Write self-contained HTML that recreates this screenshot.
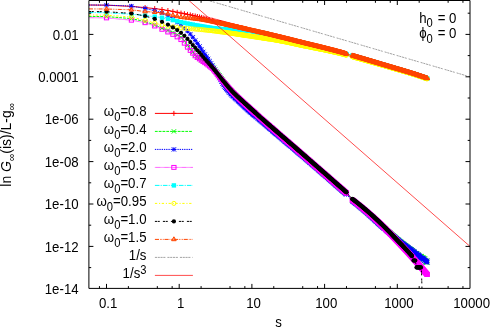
<!DOCTYPE html>
<html><head><meta charset="utf-8"><title>plot</title>
<style>html,body{margin:0;padding:0;background:#fff;width:491px;height:329px;overflow:hidden}</style>
</head><body>
<svg width="491" height="329" viewBox="0 0 491 329" style="display:block;font-family:'Liberation Sans',sans-serif;font-size:14.2px;will-change:transform">
<defs>
<marker id="m_red" markerUnits="userSpaceOnUse" markerWidth="10" markerHeight="10" viewBox="-5 -5 10 10" refX="0" refY="0" overflow="visible"><path d="M-2.5,0H2.5M0,-2.5V2.5" stroke="#ff0000" stroke-width="1" fill="none"/></marker><g id="g_red"><path d="M-2.5,0H2.5M0,-2.5V2.5" stroke="#ff0000" stroke-width="1" fill="none"/></g>
<marker id="m_green" markerUnits="userSpaceOnUse" markerWidth="10" markerHeight="10" viewBox="-5 -5 10 10" refX="0" refY="0" overflow="visible"><path d="M-2.15,-2.15L2.15,2.15M-2.15,2.15L2.15,-2.15" stroke="#00ff00" stroke-width="1" fill="none"/></marker><g id="g_green"><path d="M-2.15,-2.15L2.15,2.15M-2.15,2.15L2.15,-2.15" stroke="#00ff00" stroke-width="1" fill="none"/></g>
<marker id="m_blue" markerUnits="userSpaceOnUse" markerWidth="10" markerHeight="10" viewBox="-5 -5 10 10" refX="0" refY="0" overflow="visible"><path d="M-2.15,0H2.15M0,-2.15V2.15M-2.15,-2.15L2.15,2.15M-2.15,2.15L2.15,-2.15" stroke="#0000ff" stroke-width="1" fill="none"/></marker><g id="g_blue"><path d="M-2.15,0H2.15M0,-2.15V2.15M-2.15,-2.15L2.15,2.15M-2.15,2.15L2.15,-2.15" stroke="#0000ff" stroke-width="1" fill="none"/></g>
<marker id="m_magenta" markerUnits="userSpaceOnUse" markerWidth="10" markerHeight="10" viewBox="-5 -5 10 10" refX="0" refY="0" overflow="visible"><rect x="-2.1" y="-1.95" width="4.2" height="3.9" stroke="#ff00ff" stroke-width="1" fill="none"/></marker><g id="g_magenta"><rect x="-2.1" y="-1.95" width="4.2" height="3.9" stroke="#ff00ff" stroke-width="1" fill="none"/></g>
<marker id="m_cyan" markerUnits="userSpaceOnUse" markerWidth="10" markerHeight="10" viewBox="-5 -5 10 10" refX="0" refY="0" overflow="visible"><rect x="-2.2" y="-2.2" width="4.4" height="4.4" fill="#00ffff"/></marker><g id="g_cyan"><rect x="-2.2" y="-2.2" width="4.4" height="4.4" fill="#00ffff"/></g>
<marker id="m_yellow" markerUnits="userSpaceOnUse" markerWidth="10" markerHeight="10" viewBox="-5 -5 10 10" refX="0" refY="0" overflow="visible"><circle r="2.05" stroke="#ffff00" stroke-width="1" fill="none"/></marker><g id="g_yellow"><circle r="2.05" stroke="#ffff00" stroke-width="1" fill="none"/></g>
<marker id="m_black" markerUnits="userSpaceOnUse" markerWidth="10" markerHeight="10" viewBox="-5 -5 10 10" refX="0" refY="0" overflow="visible"><circle r="2.1" fill="#000000"/></marker><g id="g_black"><circle r="2.1" fill="#000000"/></g>
<marker id="m_orange" markerUnits="userSpaceOnUse" markerWidth="10" markerHeight="10" viewBox="-5 -5 10 10" refX="0" refY="0" overflow="visible"><path d="M0,-2.6L2.3,1.3H-2.3Z" stroke="#ff4500" stroke-width="1" fill="#ff4500" fill-opacity="0.5"/></marker><g id="g_orange"><path d="M0,-2.6L2.3,1.3H-2.3Z" stroke="#ff4500" stroke-width="1" fill="#ff4500" fill-opacity="0.5"/></g>
<clipPath id="clip"><rect x="88.9" y="0.5" width="381.1" height="287.9"/></clipPath>
</defs>
<rect width="491" height="329" fill="#fff"/>
<g clip-path="url(#clip)">
<polyline points="88.9,5.0 106.5,5.2 131.4,6.4 145.1,7.6 154.7,8.6 162.0,9.5 167.9,10.5 172.9,11.4 177.2,12.3 181.0,13.1 184.4,13.7 187.5,14.4 190.3,14.9 192.8,15.5 195.2,16.0 197.4,16.5 199.5,17.0 201.4,17.4 203.2,17.9 204.9,18.3 206.6,18.8 208.1,19.2 209.6,19.6 211.0,20.0 212.4,20.3 213.7,20.7 214.9,21.0 216.1,21.4 217.3,21.7 218.4,22.0 219.5,22.3 220.5,22.5 221.5,22.8 222.5,23.1 224.4,23.6 226.1,24.0 227.8,24.5 229.4,24.9 230.9,25.3 232.3,25.7 233.7,26.1 235.0,26.4 236.3,26.7 237.5,27.1 238.7,27.4 239.8,27.7 240.9,28.0 242.0,28.2 243.0,28.5 244.0,28.8 245.4,29.1 246.8,29.5 248.1,29.8 249.3,30.1 250.5,30.4 251.7,30.7 252.8,31.0 253.9,31.3 255.0,31.5 256.0,31.8 257.0,32.0 258.2,32.3 259.4,32.6 260.6,32.9 261.7,33.2 262.8,33.4 263.9,33.7 264.9,33.9 265.9,34.2 267.1,34.5 268.2,34.7 269.4,35.0 270.4,35.2 271.5,35.5 272.5,35.7 273.6,36.0 274.7,36.3 275.8,36.5 276.9,36.8 277.9,37.0 278.9,37.2 280.0,37.5 281.1,37.7 282.1,38.0 283.1,38.2 284.2,38.5 285.3,38.7 286.3,39.0 287.3,39.2 288.4,39.5 289.5,39.7 290.5,40.0 291.5,40.2 292.5,40.5 293.6,40.7 294.6,41.0 295.6,41.2 296.6,41.5 297.6,41.7 298.7,42.0 299.7,42.2 300.7,42.5 301.7,42.7 302.7,43.0 303.8,43.2 304.8,43.5 305.8,43.7 306.8,44.0 307.8,44.2 308.8,44.5 309.8,44.7 310.8,45.0 311.8,45.2 312.8,45.5 313.7,45.7 314.7,46.0 315.8,46.3 316.7,46.5 317.8,46.8 318.7,47.0 319.7,47.3 320.7,47.5 321.7,47.8 322.7,48.0 323.7,48.3 324.7,48.5 325.7,48.8 326.6,49.0 327.6,49.3 328.6,49.5 329.6,49.8 330.6,50.0 331.6,50.3 332.5,50.6 333.5,50.8 334.5,51.1 335.5,51.3 336.5,51.6 337.4,51.8 338.4,52.1 339.4,52.3 340.4,52.6 341.4,52.9 342.3,53.1 343.3,53.4 344.3,53.6 345.3,53.9 346.2,54.1 352.2,55.5 353.3,55.8 354.3,56.1 355.3,56.4 356.3,56.7 357.3,57.0 358.3,57.3 359.3,57.6 360.3,57.9 361.3,58.2 362.3,58.5 363.3,58.8 364.3,59.1 365.3,59.4 366.3,59.7 367.3,60.0 368.3,60.3 369.3,60.6 370.3,60.8 371.3,61.1 372.3,61.4 373.3,61.7 374.3,62.0 375.2,62.3 376.2,62.6 377.2,62.9 378.2,63.2 379.2,63.5 380.2,63.8 381.1,64.1 382.1,64.4 383.1,64.6 384.1,64.9 385.1,65.2 386.0,65.5 387.0,65.8 388.0,66.1 389.0,66.4 389.9,66.7 390.9,67.0 391.9,67.3 392.9,67.5 393.8,67.8 394.8,68.1 395.8,68.4 396.8,68.7 397.7,69.0 398.7,69.3 399.7,69.6 400.7,69.8 401.7,70.1 402.6,70.4 403.6,70.7 404.6,71.0 405.5,71.3 406.5,71.6 407.5,71.9 408.4,72.2 409.4,72.4 410.4,72.7 411.3,73.0 412.3,73.3 413.3,73.6 414.2,74.0 415.2,74.3 416.1,74.6 417.1,74.9 418.1,75.2 419.0,75.5 420.0,75.8 420.9,76.2 421.9,76.5 422.8,76.8 423.8,77.1 424.7,77.5 425.7,77.8 426.6,78.1 427.2,78.3" fill="none" stroke="#ff0000" stroke-width="1"/>
<polyline points="106.5,5.2 131.4,6.4 145.1,7.6 154.7,8.6 162.0,9.5 167.9,10.5 172.9,11.4 177.2,12.3 181.0,13.1 184.4,13.7 187.5,14.4 190.3,14.9 192.8,15.5 195.2,16.0 197.4,16.5 199.5,17.0 201.4,17.4 203.2,17.9 204.9,18.3 206.6,18.8 208.1,19.2 209.6,19.6 211.0,20.0 212.4,20.3 213.7,20.7 214.9,21.0 216.1,21.4 217.3,21.7 218.4,22.0 219.5,22.3 220.5,22.5 221.5,22.8 222.5,23.1 223.4,23.3 224.4,23.6 225.3,23.8 226.1,24.0 227.0,24.3 227.8,24.5 228.6,24.7 229.4,24.9 230.1,25.1 230.9,25.3 231.6,25.5 232.3,25.7 233.0,25.9 233.7,26.1 234.4,26.2 235.0,26.4 235.7,26.6 236.3,26.7 236.9,26.9 237.5,27.1 238.1,27.2 238.7,27.4 239.3,27.5 239.8,27.7 240.4,27.8 240.9,28.0 241.4,28.1 242.0,28.2 242.5,28.4 243.0,28.5 243.5,28.6 244.0,28.8 244.5,28.9 244.9,29.0 245.4,29.1 245.9,29.2 246.3,29.4 246.8,29.5 247.2,29.6 247.6,29.7 248.5,29.9 249.3,30.1 250.1,30.3 250.9,30.5 251.7,30.7 252.5,30.9 253.2,31.1 253.9,31.3 254.6,31.5 255.3,31.6 256.0,31.8 256.6,31.9 257.3,32.1 257.9,32.3 258.5,32.4 259.1,32.6 259.7,32.7 260.3,32.8 260.9,33.0 261.5,33.1 262.0,33.3 262.6,33.4 263.1,33.5 263.6,33.6 264.1,33.8 264.7,33.9 265.2,34.0 265.7,34.1 266.1,34.2 266.6,34.3 267.1,34.5 267.6,34.6 268.0,34.7 268.5,34.8 268.9,34.9 269.4,35.0 270.0,35.1 270.6,35.3 271.3,35.4 271.9,35.6 272.5,35.7 273.1,35.9 273.6,36.0 274.2,36.1 274.7,36.3 275.3,36.4 275.8,36.5 276.4,36.6 276.9,36.8 277.4,36.9 277.9,37.0 278.4,37.1 278.9,37.2 279.4,37.3 279.8,37.5 280.3,37.6 280.8,37.7 281.2,37.8 281.7,37.9 282.1,38.0 282.7,38.1 283.2,38.3 283.8,38.4 284.3,38.5 284.9,38.7 285.4,38.8 285.9,38.9 286.4,39.0 286.9,39.1 287.4,39.3 287.9,39.4 288.4,39.5 288.9,39.6 289.3,39.7 289.8,39.8 290.3,39.9 290.7,40.0 291.1,40.1 291.7,40.3 292.2,40.4 292.7,40.5 293.3,40.7 293.8,40.8 294.3,40.9 294.8,41.0 295.2,41.1 295.7,41.2 296.2,41.4 296.6,41.5 297.1,41.6 297.6,41.7 298.0,41.8 298.5,41.9 299.0,42.1 299.5,42.2 300.0,42.3 300.5,42.4 301.0,42.6 301.5,42.7 302.0,42.8 302.4,42.9 302.9,43.0 303.3,43.1 303.8,43.2 304.2,43.3 304.7,43.5 305.2,43.6 305.7,43.7 306.2,43.8 306.6,44.0 307.1,44.1 307.6,44.2 308.0,44.3 308.5,44.4 308.9,44.5 309.4,44.6 309.9,44.8 310.4,44.9 310.8,45.0 311.3,45.1 311.8,45.2 312.2,45.4 312.7,45.5 313.1,45.6 313.6,45.7 314.1,45.8 314.5,45.9 315.0,46.1 315.5,46.2 315.9,46.3 316.4,46.4 316.8,46.5 317.3,46.6 317.8,46.8 318.2,46.9 318.7,47.0 319.1,47.1 319.6,47.2 320.0,47.3 320.5,47.5 321.0,47.6 321.4,47.7 321.9,47.8 322.3,47.9 322.8,48.0 323.2,48.2 323.7,48.3 324.2,48.4 324.6,48.5 325.1,48.6 325.5,48.7 326.0,48.9 326.4,49.0 326.9,49.1 327.3,49.2 327.8,49.3 328.2,49.4 328.7,49.6 329.1,49.7 329.6,49.8 330.0,49.9 330.5,50.0 330.9,50.1 331.4,50.3 331.8,50.4 332.3,50.5 332.7,50.6 333.2,50.7 333.6,50.8 334.1,50.9 334.5,51.1 335.0,51.2 335.4,51.3 335.9,51.4 336.3,51.5 336.8,51.6 337.2,51.8 337.7,51.9 338.1,52.0 338.6,52.1 339.0,52.2 339.5,52.4 339.9,52.5 340.4,52.6 340.8,52.7 341.3,52.8 341.7,52.9 342.1,53.1 342.6,53.2 343.0,53.3 343.5,53.4 343.9,53.5 344.4,53.6 344.8,53.8 345.3,53.9 345.7,54.0 346.2,54.1 346.5,54.2" fill="none" stroke="none" marker-start="url(#m_red)" marker-mid="url(#m_red)" marker-end="url(#m_red)"/>
<polyline points="352.2,55.5 352.8,55.7 353.3,55.8 353.8,56.0 354.3,56.1 354.8,56.3 355.3,56.4 355.7,56.6 356.2,56.7 356.7,56.8 357.1,57.0 357.6,57.1 358.0,57.2 358.4,57.4 359.0,57.5 359.5,57.7 360.0,57.8 360.5,58.0 361.0,58.1 361.5,58.3 362.0,58.4 362.5,58.5 363.0,58.7 363.4,58.8 363.9,59.0 364.3,59.1 364.8,59.2 365.2,59.3 365.7,59.5 366.2,59.6 366.7,59.8 367.2,59.9 367.7,60.1 368.1,60.2 368.6,60.3 369.1,60.5 369.5,60.6 370.0,60.8 370.4,60.9 370.9,61.0 371.3,61.1 371.8,61.3 372.3,61.4 372.8,61.6 373.3,61.7 373.7,61.9 374.2,62.0 374.6,62.1 375.1,62.3 375.5,62.4 376.0,62.5 376.5,62.7 377.0,62.8 377.4,63.0 377.9,63.1 378.4,63.2 378.8,63.4 379.3,63.5 379.7,63.6 380.2,63.8 380.6,63.9 381.1,64.0 381.5,64.2 382.0,64.3 382.5,64.5 382.9,64.6 383.4,64.7 383.8,64.9 384.2,65.0 384.7,65.1 385.2,65.3 385.6,65.4 386.1,65.5 386.5,65.7 387.0,65.8 387.4,65.9 387.9,66.1 388.3,66.2 388.8,66.3 389.3,66.5 389.7,66.6 390.1,66.7 390.6,66.9 391.0,67.0 391.5,67.1 391.9,67.3 392.4,67.4 392.8,67.5 393.3,67.7 393.7,67.8 394.2,67.9 394.6,68.1 395.1,68.2 395.5,68.3 396.0,68.5 396.4,68.6 396.9,68.7 397.3,68.9 397.8,69.0 398.2,69.1 398.7,69.3 399.1,69.4 399.6,69.5 400.0,69.6 400.4,69.8 400.9,69.9 401.3,70.0 401.8,70.2 402.2,70.3 402.7,70.4 403.1,70.6 403.6,70.7 404.0,70.8 404.4,71.0 404.9,71.1 405.3,71.2 405.8,71.4 406.2,71.5 406.7,71.6 407.1,71.8 407.5,71.9 408.0,72.0 408.4,72.2 408.9,72.3 409.3,72.4 409.7,72.6 410.2,72.7 410.6,72.8 411.1,73.0 411.5,73.1 411.9,73.2 412.4,73.4 412.8,73.5 413.3,73.6 413.7,73.8 414.1,73.9 414.6,74.1 415.0,74.2 415.4,74.3 415.9,74.5 416.3,74.6 416.7,74.8 417.2,74.9 417.6,75.0 418.0,75.2 418.5,75.3 418.9,75.5 419.3,75.6 419.8,75.8 420.2,75.9 420.7,76.1 421.1,76.2 421.5,76.4 421.9,76.5 422.4,76.6 422.8,76.8 423.3,76.9 423.7,77.1 424.1,77.2 424.5,77.4 425.0,77.5 425.4,77.7 425.8,77.8 426.3,78.0 426.7,78.1 427.1,78.3 427.2,78.3" fill="none" stroke="none" marker-start="url(#m_red)" marker-mid="url(#m_red)" marker-end="url(#m_red)"/>
<polyline points="88.9,16.4 106.5,16.6 131.4,18.6 145.1,21.6 154.7,24.9 162.0,28.0 167.9,30.4 172.9,32.5 177.2,34.7 181.0,37.3 184.4,40.9 187.5,45.2 190.3,48.8 192.8,52.0 195.2,54.9 197.4,57.2 199.5,58.9 201.4,60.2 203.2,61.2 204.9,62.1 206.6,62.9 208.1,63.8 209.6,64.7 211.0,65.7 212.4,66.8 213.7,68.1 214.9,69.5 216.1,71.1 217.3,72.6 218.4,74.1 219.5,75.5 220.5,76.9 221.5,78.3 222.5,79.7 223.4,81.1 224.4,82.5 225.3,83.8 226.1,85.0 227.0,86.2 227.8,87.2 228.6,88.2 229.4,89.1 230.1,90.0 230.9,90.8 231.6,91.6 232.3,92.3 233.0,93.0 234.4,94.4 235.7,95.7 236.9,96.9 238.1,98.1 239.3,99.2 240.4,100.3 241.4,101.3 242.5,102.3 243.5,103.3 244.5,104.2 245.4,105.1 246.3,105.9 247.2,106.7 248.1,107.5 248.9,108.3 249.7,109.1 250.5,109.8 251.3,110.5 252.1,111.2 253.2,112.2 254.3,113.1 255.3,114.0 256.3,114.9 257.3,115.8 258.2,116.6 259.1,117.4 260.0,118.2 260.9,119.0 261.7,119.7 262.6,120.4 263.4,121.1 264.1,121.8 264.9,122.5 265.9,123.3 266.9,124.2 267.8,125.0 268.7,125.8 269.6,126.5 270.4,127.3 271.3,128.0 272.1,128.7 272.9,129.4 273.6,130.1 274.6,130.9 275.5,131.7 276.4,132.5 277.2,133.2 278.1,134.0 278.9,134.7 279.7,135.4 280.4,136.0 281.2,136.7 282.1,137.5 283.0,138.2 283.8,138.9 284.6,139.6 285.4,140.3 286.2,141.0 286.9,141.6 287.8,142.4 288.6,143.1 289.5,143.8 290.3,144.5 291.0,145.2 291.8,145.8 292.6,146.5 293.5,147.2 294.3,147.9 295.0,148.6 295.8,149.3 296.6,150.0 297.5,150.7 298.3,151.4 299.0,152.1 299.8,152.7 300.6,153.4 301.4,154.1 302.2,154.8 303.0,155.5 303.8,156.2 304.6,156.9 305.3,157.6 306.1,158.2 306.9,158.9 307.7,159.6 308.5,160.3 309.3,161.0 310.1,161.7 310.8,162.3 311.6,163.0 312.4,163.7 313.2,164.4 314.0,165.1 314.8,165.8 315.6,166.5 316.4,167.1 317.1,167.8 317.9,168.5 318.7,169.2 319.4,169.8 320.2,170.5 321.0,171.2 321.8,171.9 322.5,172.5 323.3,173.2 324.1,173.9 324.8,174.6 325.6,175.2 326.4,175.9 327.2,176.6 327.9,177.2 328.7,177.9 329.5,178.6 330.2,179.3 331.0,179.9 331.8,180.6 332.5,181.3 333.3,182.0 334.1,182.6 334.8,183.3 335.6,184.0 336.4,184.6 337.1,185.3 337.9,186.0 338.7,186.7 339.4,187.3 340.2,188.0 341.0,188.7 341.7,189.3 342.5,190.0 343.2,190.7 344.0,191.3 344.8,192.0 345.5,192.7 346.3,193.4 352.2,200.0 353.1,200.7 354.0,201.4 354.9,202.1 355.7,202.8 356.5,203.5 357.3,204.1 358.1,204.7 359.0,205.5 359.8,206.2 360.6,206.8 361.4,207.5 362.2,208.2 363.1,208.9 363.9,209.6 364.7,210.3 365.5,211.0 366.2,211.6 367.1,212.4 367.9,213.1 368.7,213.8 369.5,214.5 370.2,215.1 371.0,215.9 371.8,216.6 372.6,217.3 373.3,218.0 374.1,218.7 374.9,219.4 375.7,220.1 376.4,220.8 377.2,221.5 378.0,222.2 378.7,222.9 379.5,223.6 380.3,224.3 381.0,225.0 381.8,225.7 382.6,226.3 383.4,227.0 384.1,227.7 384.9,228.4 385.7,229.1 386.4,229.8 387.2,230.5 388.0,231.1 388.8,231.8 389.5,232.5 390.3,233.2 391.1,233.8 391.8,234.5 392.6,235.2 393.4,235.9 394.1,236.5 394.9,237.2 395.7,237.9 396.5,238.5 397.2,239.2 398.0,239.8 398.8,240.5 399.6,241.1 400.4,241.8 401.2,242.4 402.0,243.0 402.8,243.6 403.6,244.3 404.4,244.9 405.3,245.5 406.1,246.1 406.9,246.7 407.7,247.3 408.5,247.9 409.3,248.6 410.1,249.2 410.9,249.8 411.7,250.4 412.5,251.0 413.3,251.7 414.1,252.3 415.0,252.9 415.8,253.5 416.6,254.1 417.4,254.7 418.2,255.3 419.0,255.9 419.8,256.5 420.6,257.1 421.4,257.7 422.3,258.3 423.1,258.9 423.9,259.5 424.7,260.1 425.5,260.7 426.3,261.3 427.2,261.8 427.2,261.9" fill="none" stroke="#00ff00" stroke-width="1" stroke-dasharray="2.8 1"/>
<polyline points="106.5,16.6 131.4,18.6 145.1,21.6 154.7,24.9 162.0,28.0 167.9,30.4 172.9,32.5 177.2,34.7 181.0,37.3 184.4,40.9 187.5,45.2 190.3,48.8 192.8,52.0 195.2,54.9 197.4,57.2 199.5,58.9 201.4,60.2 203.2,61.2 204.9,62.1 206.6,62.9 208.1,63.8 209.6,64.7 211.0,65.7 212.4,66.8 213.7,68.1 214.9,69.5 216.1,71.1 217.3,72.6 218.4,74.1 219.5,75.5 220.5,76.9 221.5,78.3 222.5,79.7 223.4,81.1 224.4,82.5 225.3,83.8 226.1,85.0 227.0,86.2 227.8,87.2 228.6,88.2 229.4,89.1 230.1,90.0 230.9,90.8 231.6,91.6 232.3,92.3 233.0,93.0 233.7,93.7 234.4,94.4 235.0,95.1 235.7,95.7 236.3,96.3 236.9,96.9 237.5,97.5 238.1,98.1 238.7,98.6 239.3,99.2 239.8,99.7 240.4,100.3 240.9,100.8 241.4,101.3 242.0,101.8 242.5,102.3 243.0,102.8 243.5,103.3 244.0,103.7 244.5,104.2 244.9,104.6 245.4,105.1 245.9,105.5 246.3,105.9 246.8,106.3 247.2,106.7 247.6,107.1 248.1,107.5 248.5,107.9 248.9,108.3 249.3,108.7 249.7,109.1 250.1,109.4 250.5,109.8 250.9,110.1 251.3,110.5 251.7,110.8 252.1,111.2 252.5,111.5 252.8,111.8 253.2,112.2 253.6,112.5 253.9,112.8 254.3,113.1 254.6,113.4 255.0,113.7 255.3,114.0 255.6,114.3 256.3,114.9 257.0,115.5 257.6,116.1 258.2,116.6 258.8,117.2 259.4,117.7 260.0,118.2 260.6,118.7 261.2,119.2 261.7,119.7 262.3,120.2 262.8,120.6 263.4,121.1 263.9,121.6 264.4,122.0 264.9,122.5 265.4,122.9 265.9,123.3 266.4,123.7 266.9,124.2 267.3,124.6 267.8,125.0 268.2,125.4 268.7,125.8 269.1,126.2 269.6,126.5 270.0,126.9 270.4,127.3 270.8,127.7 271.3,128.0 271.7,128.4 272.1,128.7 272.5,129.1 272.9,129.4 273.2,129.8 273.6,130.1 274.0,130.4 274.4,130.8 274.7,131.1 275.1,131.4 275.5,131.7 275.8,132.0 276.2,132.3 276.5,132.6 276.9,132.9 277.2,133.2 277.7,133.7 278.2,134.1 278.7,134.5 279.2,135.0 279.7,135.4 280.1,135.8 280.6,136.2 281.1,136.6 281.5,137.0 281.9,137.3 282.4,137.7 282.8,138.1 283.2,138.4 283.7,138.8 284.1,139.2 284.5,139.5 284.9,139.9 285.3,140.2 285.7,140.5 286.1,140.9 286.4,141.2 286.8,141.5 287.2,141.8 287.6,142.2 287.9,142.5 288.3,142.8 288.6,143.1 289.0,143.4 289.3,143.7 289.7,144.0 290.0,144.3 290.5,144.7 290.9,145.1 291.4,145.4 291.8,145.8 292.2,146.2 292.6,146.5 293.1,146.9 293.5,147.2 293.9,147.6 294.3,147.9 294.7,148.3 295.0,148.6 295.4,148.9 295.8,149.3 296.2,149.6 296.6,149.9 296.9,150.2 297.3,150.5 297.6,150.9 298.0,151.2 298.3,151.5 298.7,151.8 299.0,152.1 299.5,152.4 299.9,152.8 300.3,153.2 300.7,153.5 301.1,153.9 301.5,154.2 301.9,154.5 302.3,154.9 302.7,155.2 303.0,155.5 303.4,155.9 303.8,156.2 304.1,156.5 304.5,156.8 304.9,157.1 305.2,157.4 305.6,157.7 305.9,158.0 306.2,158.3 306.6,158.7 307.0,159.0 307.4,159.4 307.8,159.7 308.2,160.0 308.6,160.4 309.0,160.7 309.3,161.0 309.7,161.3 310.1,161.7 310.4,162.0 310.8,162.3 311.1,162.6 311.5,162.9 311.8,163.2 312.2,163.5 312.6,163.9 313.0,164.2 313.4,164.5 313.7,164.9 314.1,165.2 314.5,165.5 314.8,165.8 315.2,166.1 315.6,166.5 315.9,166.8 316.3,167.1 316.6,167.4 316.9,167.7 317.3,168.0 317.7,168.3 318.1,168.7 318.4,169.0 318.8,169.3 319.2,169.6 319.5,169.9 319.9,170.2 320.2,170.5 320.6,170.8 320.9,171.1 321.3,171.5 321.7,171.8 322.1,172.1 322.4,172.4 322.8,172.8 323.1,173.1 323.5,173.4 323.9,173.7 324.2,174.0 324.5,174.3 324.9,174.6 325.3,174.9 325.6,175.2 326.0,175.6 326.4,175.9 326.7,176.2 327.1,176.5 327.4,176.8 327.8,177.1 328.1,177.4 328.5,177.7 328.8,178.0 329.2,178.4 329.6,178.7 329.9,179.0 330.3,179.3 330.6,179.6 330.9,179.9 331.3,180.2 331.7,180.5 332.0,180.8 332.4,181.1 332.7,181.4 333.1,181.8 333.4,182.1 333.8,182.4 334.1,182.7 334.5,183.0 334.8,183.3 335.2,183.6 335.6,183.9 335.9,184.2 336.2,184.5 336.6,184.8 336.9,185.1 337.3,185.5 337.6,185.8 338.0,186.1 338.3,186.4 338.7,186.7 339.0,187.0 339.4,187.3 339.8,187.6 340.1,187.9 340.5,188.2 340.8,188.5 341.1,188.8 341.5,189.1 341.8,189.4 342.2,189.8 342.5,190.1 342.9,190.4 343.2,190.7 343.6,191.0 343.9,191.3 344.3,191.6 344.6,191.9 345.0,192.2 345.3,192.5 345.7,192.8 346.0,193.1 346.4,193.4 346.5,193.5" fill="none" stroke="none" marker-start="url(#m_green)" marker-mid="url(#m_green)" marker-end="url(#m_green)"/>
<polyline points="352.2,200.0 352.6,200.3 353.0,200.6 353.4,200.9 353.8,201.2 354.2,201.5 354.5,201.8 354.9,202.1 355.3,202.4 355.6,202.7 356.0,203.0 356.4,203.4 356.9,203.7 357.3,204.1 357.8,204.5 358.2,204.8 358.6,205.2 359.1,205.5 359.5,205.9 359.9,206.2 360.3,206.6 360.7,206.9 361.1,207.3 361.5,207.6 361.9,207.9 362.3,208.2 362.7,208.6 363.1,208.9 363.4,209.2 363.8,209.5 364.2,209.8 364.5,210.1 364.9,210.4 365.2,210.7 365.6,211.0 365.9,211.3 366.3,211.7 366.8,212.1 367.2,212.4 367.6,212.8 368.0,213.1 368.4,213.5 368.8,213.8 369.1,214.2 369.5,214.5 369.9,214.9 370.3,215.2 370.7,215.6 371.0,215.9 371.4,216.2 371.7,216.5 372.1,216.9 372.4,217.2 372.8,217.5 373.1,217.8 373.5,218.1 373.8,218.4 374.2,218.8 374.6,219.2 375.0,219.5 375.4,219.9 375.7,220.2 376.1,220.5 376.5,220.9 376.8,221.2 377.2,221.5 377.6,221.9 377.9,222.2 378.3,222.5 378.6,222.8 378.9,223.1 379.3,223.4 379.7,223.8 380.0,224.1 380.4,224.4 380.8,224.8 381.2,225.1 381.5,225.4 381.9,225.7 382.3,226.1 382.6,226.4 383.0,226.7 383.3,227.0 383.7,227.3 384.0,227.6 384.4,227.9 384.7,228.3 385.1,228.6 385.5,228.9 385.9,229.2 386.2,229.6 386.6,229.9 386.9,230.2 387.3,230.5 387.6,230.8 388.0,231.1 388.3,231.4 388.7,231.7 389.0,232.1 389.4,232.4 389.8,232.7 390.1,233.0 390.5,233.3 390.8,233.6 391.2,233.9 391.5,234.2 391.9,234.5 392.2,234.9 392.6,235.2 393.0,235.5 393.3,235.8 393.7,236.1 394.0,236.4 394.4,236.7 394.7,237.1 395.1,237.3 395.4,237.7 395.8,238.0 396.2,238.3 396.5,238.6 396.9,238.9 397.2,239.2 397.6,239.5 398.0,239.8 398.4,240.1 398.7,240.4 399.1,240.7 399.4,241.0 399.8,241.3 400.2,241.6 400.5,241.9 400.9,242.2 401.3,242.4 401.6,242.7 402.0,243.0 402.4,243.3 402.7,243.6 403.1,243.9 403.5,244.1 403.8,244.5 404.2,244.8 404.6,245.0 405.0,245.2 405.3,245.7 405.7,245.8 406.1,246.3 406.4,246.1 406.8,246.6 407.2,247.0 407.6,247.6 407.9,247.3 408.3,248.1 408.7,248.2 409.0,248.6 409.4,248.8 409.8,249.5 410.1,249.0 410.5,249.4 410.9,249.4 411.2,249.4 411.6,249.9 412.0,251.2 412.3,251.4 412.7,250.5 413.1,251.6 413.4,251.7 413.8,252.2 414.2,252.6 414.6,252.2 414.9,253.8 415.3,253.1 415.7,253.7 416.0,254.0 416.4,253.3 416.8,253.3 417.1,254.3 417.5,255.4 417.9,255.8 418.3,255.9 418.6,254.7 419.0,256.9 419.4,256.9 419.7,257.4 420.1,256.8 420.5,258.1 420.8,256.0 421.2,256.2 421.6,256.4 421.9,257.3 422.3,257.6 422.7,257.7 423.1,259.1 423.4,257.7 423.8,259.7 424.2,258.6 424.5,260.5 424.9,258.6 425.3,259.9 425.7,262.3 426.0,261.2 426.4,262.4 426.8,262.1 427.1,262.2 427.2,260.7" fill="none" stroke="none" marker-start="url(#m_green)" marker-mid="url(#m_green)" marker-end="url(#m_green)"/>
<polyline points="88.9,5.0 106.5,5.1 131.4,6.1 145.1,8.5 154.7,10.6 162.0,12.8 167.9,15.7 172.9,19.0 177.2,22.3 181.0,25.3 184.4,28.2 187.5,31.2 190.3,34.2 192.8,37.3 195.2,40.5 197.4,43.5 199.5,46.4 201.4,49.2 203.2,51.9 204.9,54.4 206.6,56.7 208.1,58.9 209.6,61.2 211.0,63.4 212.4,65.6 213.7,67.8 214.9,69.9 216.1,71.9 217.3,73.9 218.4,76.0 219.5,78.0 220.5,80.0 221.5,81.8 222.5,83.5 223.4,85.1 224.4,86.5 225.3,87.7 226.1,88.8 227.0,89.8 227.8,90.8 228.6,91.7 229.4,92.5 230.1,93.3 230.9,94.1 231.6,94.8 233.0,96.1 234.4,97.4 235.7,98.6 236.9,99.7 238.1,100.8 239.3,101.8 240.4,102.9 241.4,103.9 242.5,104.8 243.5,105.7 244.5,106.6 245.4,107.5 246.3,108.3 247.2,109.1 248.1,109.9 248.9,110.6 249.7,111.3 250.5,112.0 251.3,112.7 252.1,113.3 253.2,114.3 254.3,115.2 255.3,116.1 256.3,117.0 257.3,117.8 258.2,118.6 259.1,119.4 260.0,120.1 260.9,120.8 261.7,121.5 262.6,122.2 263.4,122.9 264.1,123.6 265.2,124.4 266.1,125.2 267.1,126.1 268.0,126.8 268.9,127.6 269.8,128.3 270.6,129.1 271.5,129.8 272.3,130.5 273.1,131.1 273.8,131.8 274.7,132.6 275.7,133.3 276.5,134.1 277.4,134.8 278.2,135.5 279.0,136.2 279.8,136.9 280.6,137.5 281.5,138.3 282.4,139.0 283.2,139.7 284.1,140.4 284.9,141.1 285.7,141.8 286.4,142.4 287.3,143.2 288.2,143.9 289.0,144.6 289.8,145.3 290.6,145.9 291.4,146.6 292.2,147.3 293.1,148.0 293.9,148.7 294.7,149.4 295.4,150.0 296.3,150.7 297.1,151.4 297.9,152.1 298.7,152.8 299.5,153.4 300.3,154.1 301.1,154.8 301.9,155.5 302.7,156.2 303.5,156.9 304.3,157.6 305.1,158.2 305.8,158.9 306.6,159.6 307.4,160.3 308.2,160.9 309.0,161.6 309.8,162.3 310.6,163.0 311.4,163.6 312.2,164.3 312.9,165.0 313.7,165.7 314.5,166.3 315.3,167.0 316.1,167.7 316.8,168.4 317.6,169.0 318.4,169.7 319.2,170.4 320.0,171.1 320.8,171.8 321.5,172.4 322.3,173.1 323.1,173.8 323.9,174.4 324.6,175.1 325.4,175.8 326.2,176.5 327.0,177.1 327.7,177.8 328.5,178.5 329.3,179.1 330.0,179.8 330.8,180.5 331.6,181.1 332.3,181.8 333.1,182.5 333.9,183.2 334.6,183.8 335.4,184.5 336.2,185.2 336.9,185.8 337.7,186.5 338.5,187.2 339.2,187.8 340.0,188.5 340.7,189.2 341.5,189.8 342.3,190.5 343.0,191.2 343.8,191.9 344.6,192.5 345.3,193.2 346.1,193.9 352.2,200.7 353.1,201.4 354.0,202.1 354.9,202.8 355.7,203.5 356.5,204.1 357.3,204.7 358.2,205.5 359.1,206.2 359.9,206.9 360.7,207.5 361.5,208.2 362.3,208.8 363.1,209.6 364.0,210.3 364.8,211.0 365.6,211.6 366.3,212.3 367.2,213.0 368.0,213.7 368.8,214.5 369.5,215.2 370.3,215.8 371.1,216.6 371.9,217.3 372.6,218.0 373.4,218.7 374.1,219.4 374.9,220.1 375.7,220.8 376.4,221.5 377.2,222.2 378.0,222.9 378.7,223.6 379.5,224.3 380.3,225.0 381.1,225.7 381.8,226.4 382.6,227.0 383.4,227.7 384.2,228.4 384.9,229.1 385.7,229.7 386.5,230.4 387.3,231.1 388.0,231.7 388.8,232.4 389.6,233.1 390.4,233.8 391.2,234.4 392.0,235.1 392.8,235.8 393.5,236.4 394.3,237.1 395.1,237.8 395.9,238.4 396.7,239.1 397.5,239.7 398.3,240.4 399.1,241.0 399.9,241.6 400.7,242.2 401.5,242.8 402.3,243.4 403.1,244.0 404.0,244.7 404.8,245.2 405.6,245.8 406.4,246.4 407.2,247.0 408.0,247.6 408.9,248.2 409.7,248.9 410.5,249.5 411.3,250.1 412.1,250.7 412.9,251.3 413.7,251.9 414.5,252.5 415.3,253.1 416.1,253.7 416.9,254.3 417.7,254.9 418.6,255.5 419.4,256.1 420.2,256.7 421.0,257.3 421.8,257.9 422.6,258.5 423.4,259.1 424.2,259.7 425.1,260.3 425.9,260.9 426.7,261.5 427.2,261.8" fill="none" stroke="#0000ff" stroke-width="1" stroke-dasharray="1.35 0.9"/>
<polyline points="106.5,5.1 131.4,6.1 145.1,8.5 154.7,10.6 162.0,12.8 167.9,15.7 172.9,19.0 177.2,22.3 181.0,25.3 184.4,28.2 187.5,31.2 190.3,34.2 192.8,37.3 195.2,40.5 197.4,43.5 199.5,46.4 201.4,49.2 203.2,51.9 204.9,54.4 206.6,56.7 208.1,58.9 209.6,61.2 211.0,63.4 212.4,65.6 213.7,67.8 214.9,69.9 216.1,71.9 217.3,73.9 218.4,76.0 219.5,78.0 220.5,80.0 221.5,81.8 222.5,83.5 223.4,85.1 224.4,86.5 225.3,87.7 226.1,88.8 227.0,89.8 227.8,90.8 228.6,91.7 229.4,92.5 230.1,93.3 230.9,94.1 231.6,94.8 232.3,95.5 233.0,96.1 233.7,96.8 234.4,97.4 235.0,98.0 235.7,98.6 236.3,99.1 236.9,99.7 237.5,100.2 238.1,100.8 238.7,101.3 239.3,101.8 239.8,102.3 240.4,102.9 240.9,103.4 241.4,103.9 242.0,104.3 242.5,104.8 243.0,105.3 243.5,105.7 244.0,106.2 244.5,106.6 244.9,107.1 245.4,107.5 245.9,107.9 246.3,108.3 246.8,108.7 247.2,109.1 247.6,109.5 248.1,109.9 248.5,110.2 248.9,110.6 249.3,111.0 249.7,111.3 250.1,111.7 250.5,112.0 250.9,112.4 251.3,112.7 251.7,113.0 252.1,113.3 252.5,113.7 252.8,114.0 253.2,114.3 253.6,114.6 253.9,114.9 254.3,115.2 254.6,115.5 255.0,115.8 255.6,116.4 256.3,117.0 257.0,117.5 257.6,118.0 258.2,118.6 258.8,119.1 259.4,119.6 260.0,120.1 260.6,120.6 261.2,121.1 261.7,121.5 262.3,122.0 262.8,122.5 263.4,122.9 263.9,123.3 264.4,123.8 264.9,124.2 265.4,124.6 265.9,125.0 266.4,125.5 266.9,125.9 267.3,126.3 267.8,126.6 268.2,127.0 268.7,127.4 269.1,127.8 269.6,128.2 270.0,128.5 270.4,128.9 270.8,129.2 271.3,129.6 271.7,129.9 272.1,130.3 272.5,130.6 272.9,131.0 273.2,131.3 273.6,131.6 274.0,131.9 274.4,132.3 274.7,132.6 275.1,132.9 275.5,133.2 275.8,133.5 276.2,133.8 276.5,134.1 276.9,134.4 277.4,134.8 277.9,135.2 278.4,135.7 278.9,136.1 279.4,136.5 279.8,136.9 280.3,137.3 280.8,137.6 281.2,138.0 281.7,138.4 282.1,138.8 282.5,139.1 283.0,139.5 283.4,139.9 283.8,140.2 284.2,140.5 284.6,140.9 285.0,141.2 285.4,141.6 285.8,141.9 286.2,142.2 286.6,142.5 286.9,142.8 287.3,143.2 287.7,143.5 288.0,143.8 288.4,144.1 288.8,144.4 289.1,144.7 289.5,145.0 289.9,145.4 290.4,145.7 290.8,146.1 291.3,146.5 291.7,146.8 292.1,147.2 292.5,147.6 293.0,147.9 293.4,148.3 293.8,148.6 294.2,148.9 294.6,149.3 295.0,149.6 295.3,149.9 295.7,150.3 296.1,150.6 296.5,150.9 296.8,151.2 297.2,151.5 297.6,151.8 297.9,152.1 298.3,152.4 298.6,152.7 299.0,153.0 299.4,153.4 299.8,153.7 300.2,154.1 300.6,154.4 301.0,154.8 301.4,155.1 301.8,155.4 302.2,155.8 302.6,156.1 303.0,156.4 303.3,156.8 303.7,157.1 304.1,157.4 304.4,157.7 304.8,158.0 305.1,158.3 305.5,158.6 305.8,158.9 306.2,159.2 306.6,159.5 307.0,159.9 307.4,160.2 307.8,160.6 308.1,160.9 308.5,161.2 308.9,161.5 309.3,161.9 309.6,162.2 310.0,162.5 310.4,162.8 310.7,163.1 311.1,163.4 311.4,163.7 311.8,164.0 312.2,164.3 312.5,164.7 312.9,165.0 313.3,165.3 313.7,165.7 314.1,166.0 314.4,166.3 314.8,166.6 315.2,166.9 315.5,167.2 315.9,167.5 316.2,167.8 316.6,168.1 316.9,168.5 317.3,168.8 317.7,169.1 318.1,169.4 318.4,169.8 318.8,170.1 319.2,170.4 319.5,170.7 319.9,171.0 320.2,171.3 320.6,171.6 320.9,171.9 321.3,172.2 321.7,172.6 322.1,172.9 322.4,173.2 322.8,173.5 323.1,173.8 323.5,174.1 323.9,174.4 324.2,174.7 324.5,175.0 324.9,175.4 325.3,175.7 325.7,176.0 326.0,176.3 326.4,176.6 326.7,177.0 327.1,177.3 327.4,177.6 327.8,177.9 328.1,178.2 328.5,178.5 328.9,178.8 329.2,179.1 329.6,179.4 329.9,179.7 330.3,180.0 330.6,180.3 331.0,180.6 331.3,181.0 331.7,181.3 332.1,181.6 332.4,181.9 332.8,182.2 333.1,182.5 333.5,182.8 333.8,183.1 334.2,183.4 334.5,183.7 334.9,184.1 335.3,184.4 335.6,184.7 336.0,185.0 336.3,185.3 336.7,185.6 337.0,185.9 337.4,186.2 337.7,186.5 338.1,186.8 338.4,187.1 338.8,187.4 339.1,187.7 339.5,188.1 339.8,188.4 340.2,188.7 340.5,189.0 340.9,189.3 341.2,189.6 341.6,189.9 341.9,190.2 342.3,190.5 342.6,190.8 343.0,191.1 343.3,191.4 343.7,191.7 344.0,192.0 344.4,192.4 344.7,192.7 345.1,193.0 345.4,193.3 345.8,193.6 346.1,193.9 346.5,194.2 346.5,194.2" fill="none" stroke="none" marker-start="url(#m_blue)" marker-mid="url(#m_blue)" marker-end="url(#m_blue)"/>
<polyline points="352.2,200.7 352.6,201.0 353.0,201.3 353.4,201.6 353.8,201.9 354.2,202.2 354.5,202.5 354.9,202.8 355.3,203.1 355.6,203.4 356.0,203.6 356.4,204.0 356.9,204.4 357.3,204.7 357.8,205.1 358.2,205.5 358.6,205.8 359.1,206.2 359.5,206.5 359.9,206.9 360.3,207.2 360.7,207.5 361.1,207.9 361.5,208.2 361.9,208.5 362.3,208.8 362.7,209.2 363.1,209.5 363.4,209.8 363.8,210.1 364.2,210.4 364.5,210.7 364.9,211.0 365.2,211.3 365.6,211.6 365.9,211.9 366.3,212.3 366.8,212.7 367.2,213.0 367.6,213.4 368.0,213.7 368.4,214.1 368.8,214.5 369.1,214.8 369.5,215.2 369.9,215.5 370.3,215.8 370.7,216.2 371.0,216.5 371.4,216.9 371.7,217.2 372.1,217.5 372.4,217.8 372.8,218.2 373.1,218.5 373.5,218.8 373.8,219.1 374.1,219.4 374.5,219.8 374.9,220.1 375.3,220.5 375.7,220.8 376.0,221.2 376.4,221.5 376.8,221.9 377.1,222.2 377.5,222.5 377.8,222.8 378.2,223.2 378.5,223.5 378.9,223.8 379.2,224.1 379.6,224.4 380.0,224.8 380.4,225.1 380.7,225.4 381.1,225.7 381.5,226.1 381.8,226.4 382.2,226.7 382.6,227.0 382.9,227.3 383.3,227.6 383.6,227.9 384.0,228.2 384.4,228.6 384.7,228.9 385.1,229.2 385.5,229.5 385.9,229.8 386.2,230.2 386.6,230.5 386.9,230.8 387.3,231.1 387.6,231.4 388.0,231.7 388.3,232.0 388.7,232.3 389.1,232.6 389.5,232.9 389.8,233.3 390.2,233.6 390.5,233.9 390.9,234.2 391.2,234.5 391.6,234.8 391.9,235.1 392.3,235.4 392.7,235.7 393.0,236.0 393.4,236.3 393.8,236.6 394.1,236.9 394.5,237.2 394.8,237.5 395.2,237.8 395.5,238.1 395.9,238.4 396.3,238.7 396.6,239.0 397.0,239.3 397.4,239.6 397.7,239.9 398.1,240.2 398.5,240.5 398.8,240.8 399.2,241.1 399.6,241.4 400.0,241.7 400.3,242.0 400.7,242.2 401.1,242.5 401.4,242.8 401.8,243.1 402.2,243.4 402.6,243.6 403.0,243.9 403.3,244.2 403.7,244.4 404.1,244.7 404.4,245.0 404.8,245.3 405.2,245.6 405.6,245.8 405.9,246.1 406.3,246.4 406.7,246.7 407.1,246.9 407.4,247.2 407.8,247.5 408.2,247.7 408.6,248.0 408.9,248.4 409.3,248.6 409.7,248.8 410.0,249.2 410.4,249.3 410.8,249.7 411.2,249.9 411.5,250.3 411.9,250.6 412.3,250.8 412.6,251.0 413.0,251.5 413.4,251.9 413.7,251.7 414.1,251.9 414.5,252.2 414.8,253.1 415.2,253.4 415.6,253.1 416.0,254.0 416.3,253.6 416.7,254.1 417.1,254.4 417.4,255.1 417.8,254.5 418.2,255.0 418.6,255.6 418.9,255.3 419.3,255.8 419.7,256.3 420.0,257.0 420.4,257.2 420.8,257.5 421.1,257.7 421.5,257.9 421.9,258.4 422.3,258.5 422.6,258.8 423.0,258.5 423.4,258.6 423.7,259.7 424.1,259.1 424.5,260.4 424.8,260.3 425.2,260.2 425.6,261.3 425.9,260.4 426.3,261.2 426.7,260.9 427.0,262.4 427.2,262.0" fill="none" stroke="none" marker-start="url(#m_blue)" marker-mid="url(#m_blue)" marker-end="url(#m_blue)"/>
<polyline points="88.9,17.7 106.5,17.9 131.4,20.2 145.1,22.7 154.7,26.0 162.0,29.3 167.9,32.0 172.9,34.4 177.2,36.9 181.0,39.6 184.4,43.2 187.5,47.2 190.3,50.4 192.8,53.2 195.2,55.8 197.4,57.5 199.5,58.9 201.4,60.2 203.2,61.5 204.9,62.7 206.6,63.8 208.1,65.0 209.6,66.1 211.0,67.3 212.4,68.5 213.7,69.9 214.9,71.3 216.1,72.8 217.3,74.3 218.4,75.7 219.5,77.0 220.5,78.2 221.5,79.4 222.5,80.6 223.4,81.7 224.4,82.8 225.3,83.8 226.1,84.9 227.0,85.8 227.8,86.8 228.6,87.7 229.4,88.6 230.1,89.4 230.9,90.2 231.6,91.0 232.3,91.8 233.0,92.5 234.4,93.9 235.7,95.2 236.9,96.4 238.1,97.6 239.3,98.7 240.4,99.7 241.4,100.7 242.5,101.7 243.5,102.7 244.5,103.6 245.4,104.4 246.3,105.3 247.2,106.1 248.1,106.8 248.9,107.6 249.7,108.3 250.5,109.1 251.3,109.8 252.1,110.4 253.2,111.4 254.3,112.4 255.3,113.3 256.3,114.2 257.3,115.1 258.2,115.9 259.1,116.8 260.0,117.6 260.9,118.3 261.7,119.1 262.6,119.8 263.4,120.6 264.1,121.3 264.9,121.9 265.9,122.8 266.9,123.7 267.8,124.5 268.7,125.3 269.6,126.1 270.4,126.8 271.3,127.5 272.1,128.2 272.9,128.9 273.6,129.6 274.6,130.4 275.5,131.2 276.4,132.0 277.2,132.7 278.1,133.5 278.9,134.2 279.7,134.9 280.4,135.6 281.2,136.2 282.1,137.0 283.0,137.7 283.8,138.4 284.6,139.2 285.4,139.8 286.2,140.5 286.9,141.2 287.8,141.9 288.6,142.6 289.5,143.3 290.3,144.0 291.0,144.7 291.8,145.4 292.6,146.1 293.5,146.8 294.3,147.5 295.0,148.2 295.8,148.9 296.6,149.6 297.5,150.3 298.3,151.0 299.0,151.7 299.8,152.3 300.6,153.0 301.4,153.7 302.2,154.4 303.0,155.1 303.8,155.8 304.6,156.5 305.3,157.2 306.1,157.8 306.9,158.5 307.7,159.2 308.5,159.9 309.3,160.6 310.1,161.3 310.8,162.0 311.6,162.7 312.4,163.4 313.2,164.0 314.0,164.7 314.8,165.4 315.6,166.1 316.4,166.8 317.1,167.5 317.9,168.1 318.7,168.8 319.4,169.5 320.2,170.2 321.0,170.9 321.8,171.5 322.5,172.2 323.3,172.9 324.1,173.6 324.8,174.2 325.6,174.9 326.4,175.6 327.2,176.3 327.9,176.9 328.7,177.6 329.5,178.3 330.2,178.9 331.0,179.6 331.8,180.3 332.5,181.0 333.3,181.6 334.1,182.3 334.8,183.0 335.6,183.6 336.4,184.3 337.1,185.0 337.9,185.6 338.7,186.3 339.4,187.0 340.2,187.6 341.0,188.3 341.7,189.0 342.5,189.6 343.2,190.3 344.0,191.0 344.8,191.6 345.5,192.3 346.3,193.0 352.2,199.9 353.1,200.6 354.0,201.2 354.9,201.9 355.7,202.5 356.5,203.2 357.3,203.8 358.2,204.5 359.1,205.2 359.9,205.9 360.7,206.5 361.5,207.2 362.3,207.8 363.1,208.5 364.0,209.2 364.8,209.9 365.6,210.6 366.3,211.2 367.2,212.0 368.0,212.7 368.8,213.3 369.5,214.0 370.3,214.7 371.1,215.4 371.9,216.1 372.6,216.8 373.4,217.5 374.2,218.2 375.0,218.9 375.7,219.6 376.5,220.3 377.3,221.0 378.0,221.7 378.8,222.4 379.5,223.1 380.3,223.9 381.0,224.6 381.7,225.3 382.5,226.0 383.3,226.8 384.0,227.5 384.7,228.2 385.4,228.9 386.2,229.6 386.9,230.3 387.6,231.1 388.3,231.8 389.0,232.5 389.8,233.3 390.5,234.0 391.2,234.7 391.9,235.5 392.6,236.2 393.3,236.9 394.0,237.7 394.7,238.4 395.4,239.2 396.1,239.9 396.9,240.6 397.6,241.4 398.3,242.1 399.0,242.9 399.7,243.6 400.4,244.3 401.1,245.1 401.8,245.8 402.5,246.6 403.2,247.3 403.9,248.0 404.5,248.8 405.2,249.5 405.9,250.3 406.6,251.0 407.3,251.8 408.0,252.5 408.7,253.3 409.4,254.0 410.1,254.8 410.7,255.5 411.4,256.3 412.1,257.1 412.8,257.8 413.5,258.6 414.1,259.3 414.8,260.1 415.5,260.9 416.1,261.6 416.8,262.4 417.5,263.2 418.1,263.9 418.8,264.7 419.5,265.5 420.1,266.2 420.8,267.0 421.4,267.7 422.1,268.5 422.7,269.3 423.4,270.1 424.1,270.8 424.7,271.6 425.4,272.4 426.0,273.2 426.7,273.9 427.2,274.5" fill="none" stroke="#ff00ff" stroke-width="1" stroke-dasharray="0.6 0.53"/>
<polyline points="106.5,17.9 131.4,20.2 145.1,22.7 154.7,26.0 162.0,29.3 167.9,32.0 172.9,34.4 177.2,36.9 181.0,39.6 184.4,43.2 187.5,47.2 190.3,50.4 192.8,53.2 195.2,55.8 197.4,57.5 199.5,58.9 201.4,60.2 203.2,61.5 204.9,62.7 206.6,63.8 208.1,65.0 209.6,66.1 211.0,67.3 212.4,68.5 213.7,69.9 214.9,71.3 216.1,72.8 217.3,74.3 218.4,75.7 219.5,77.0 220.5,78.2 221.5,79.4 222.5,80.6 223.4,81.7 224.4,82.8 225.3,83.8 226.1,84.9 227.0,85.8 227.8,86.8 228.6,87.7 229.4,88.6 230.1,89.4 230.9,90.2 231.6,91.0 232.3,91.8 233.0,92.5 233.7,93.2 234.4,93.9 235.0,94.5 235.7,95.2 236.3,95.8 236.9,96.4 237.5,97.0 238.1,97.6 238.7,98.1 239.3,98.7 239.8,99.2 240.4,99.7 240.9,100.2 241.4,100.7 242.0,101.2 242.5,101.7 243.0,102.2 243.5,102.7 244.0,103.1 244.5,103.6 244.9,104.0 245.4,104.4 245.9,104.8 246.3,105.3 246.8,105.7 247.2,106.1 247.6,106.5 248.1,106.8 248.5,107.2 248.9,107.6 249.3,108.0 249.7,108.3 250.1,108.7 250.5,109.1 250.9,109.4 251.3,109.8 251.7,110.1 252.1,110.4 252.5,110.8 252.8,111.1 253.2,111.4 253.6,111.8 253.9,112.1 254.3,112.4 254.6,112.7 255.0,113.0 255.3,113.3 255.6,113.6 256.3,114.2 257.0,114.8 257.6,115.4 258.2,115.9 258.8,116.5 259.4,117.0 260.0,117.6 260.6,118.1 261.2,118.6 261.7,119.1 262.3,119.6 262.8,120.1 263.4,120.6 263.9,121.0 264.4,121.5 264.9,121.9 265.4,122.4 265.9,122.8 266.4,123.2 266.9,123.7 267.3,124.1 267.8,124.5 268.2,124.9 268.7,125.3 269.1,125.7 269.6,126.1 270.0,126.4 270.4,126.8 270.8,127.2 271.3,127.5 271.7,127.9 272.1,128.2 272.5,128.6 272.9,128.9 273.2,129.3 273.6,129.6 274.0,129.9 274.4,130.3 274.7,130.6 275.1,130.9 275.5,131.2 275.8,131.5 276.2,131.8 276.5,132.2 276.9,132.5 277.2,132.7 277.7,133.2 278.2,133.6 278.7,134.0 279.2,134.5 279.7,134.9 280.1,135.3 280.6,135.7 281.1,136.1 281.5,136.5 281.9,136.8 282.4,137.2 282.8,137.6 283.2,138.0 283.7,138.3 284.1,138.7 284.5,139.0 284.9,139.4 285.3,139.7 285.7,140.1 286.1,140.4 286.4,140.7 286.8,141.1 287.2,141.4 287.6,141.7 287.9,142.0 288.3,142.3 288.6,142.6 289.0,142.9 289.3,143.2 289.7,143.5 290.0,143.8 290.5,144.2 290.9,144.6 291.4,145.0 291.8,145.4 292.2,145.7 292.6,146.1 293.1,146.5 293.5,146.8 293.9,147.2 294.3,147.5 294.7,147.8 295.0,148.2 295.4,148.5 295.8,148.9 296.2,149.2 296.6,149.5 296.9,149.8 297.3,150.1 297.6,150.4 298.0,150.8 298.3,151.1 298.7,151.4 299.0,151.7 299.5,152.0 299.9,152.4 300.3,152.8 300.7,153.1 301.1,153.5 301.5,153.8 301.9,154.1 302.3,154.5 302.7,154.8 303.0,155.1 303.4,155.5 303.8,155.8 304.1,156.1 304.5,156.4 304.9,156.7 305.2,157.1 305.6,157.4 305.9,157.7 306.2,158.0 306.6,158.3 307.0,158.7 307.4,159.0 307.8,159.3 308.2,159.7 308.6,160.0 309.0,160.3 309.3,160.7 309.7,161.0 310.1,161.3 310.4,161.6 310.8,161.9 311.1,162.2 311.5,162.5 311.8,162.8 312.2,163.1 312.5,163.5 312.9,163.8 313.3,164.1 313.7,164.5 314.1,164.8 314.4,165.1 314.8,165.4 315.2,165.8 315.5,166.1 315.9,166.4 316.2,166.7 316.6,167.0 316.9,167.3 317.3,167.6 317.7,167.9 318.0,168.3 318.4,168.6 318.8,168.9 319.1,169.2 319.5,169.5 319.8,169.9 320.2,170.2 320.5,170.5 320.9,170.8 321.2,171.1 321.6,171.4 322.0,171.7 322.3,172.0 322.7,172.4 323.1,172.7 323.4,173.0 323.8,173.3 324.1,173.6 324.5,173.9 324.8,174.2 325.2,174.5 325.6,174.8 325.9,175.2 326.3,175.5 326.6,175.8 327.0,176.1 327.3,176.4 327.7,176.7 328.0,177.0 328.4,177.3 328.8,177.7 329.1,178.0 329.5,178.3 329.8,178.6 330.2,178.9 330.5,179.2 330.9,179.5 331.2,179.8 331.6,180.1 332.0,180.4 332.3,180.8 332.7,181.1 333.0,181.4 333.4,181.7 333.7,182.0 334.0,182.3 334.4,182.6 334.8,182.9 335.1,183.2 335.5,183.5 335.8,183.8 336.2,184.1 336.5,184.4 336.9,184.7 337.2,185.0 337.6,185.4 337.9,185.7 338.3,186.0 338.6,186.3 339.0,186.6 339.3,186.9 339.7,187.2 340.0,187.5 340.4,187.8 340.7,188.1 341.1,188.4 341.4,188.7 341.8,189.0 342.1,189.3 342.5,189.6 342.8,189.9 343.2,190.3 343.5,190.6 343.9,190.9 344.2,191.2 344.6,191.5 344.9,191.8 345.3,192.1 345.6,192.4 346.0,192.7 346.3,193.0 346.5,193.1" fill="none" stroke="none" marker-start="url(#m_magenta)" marker-mid="url(#m_magenta)" marker-end="url(#m_magenta)"/>
<polyline points="352.2,199.9 352.6,200.2 353.0,200.5 353.4,200.7 353.8,201.0 354.2,201.3 354.5,201.6 354.9,201.9 355.3,202.2 355.6,202.5 356.1,202.8 356.5,203.2 357.0,203.5 357.4,203.9 357.9,204.3 358.3,204.6 358.8,205.0 359.2,205.3 359.6,205.6 360.0,206.0 360.4,206.3 360.8,206.6 361.2,207.0 361.6,207.3 362.0,207.6 362.4,207.9 362.8,208.2 363.1,208.5 363.5,208.9 363.9,209.2 364.2,209.5 364.6,209.8 365.0,210.1 365.3,210.4 365.7,210.7 366.1,211.0 366.5,211.4 366.9,211.7 367.3,212.1 367.7,212.4 368.1,212.8 368.5,213.1 368.9,213.5 369.3,213.8 369.7,214.2 370.1,214.5 370.4,214.8 370.8,215.1 371.2,215.5 371.5,215.8 371.9,216.1 372.2,216.4 372.6,216.7 372.9,217.0 373.3,217.3 373.6,217.7 374.0,218.0 374.4,218.4 374.8,218.7 375.2,219.1 375.5,219.4 375.9,219.8 376.3,220.1 376.7,220.5 377.0,220.8 377.4,221.1 377.7,221.5 378.1,221.8 378.4,222.1 378.8,222.4 379.1,222.8 379.4,223.1 379.8,223.4 380.1,223.7 380.5,224.1 380.9,224.4 381.2,224.8 381.6,225.1 382.0,225.5 382.3,225.8 382.7,226.2 383.0,226.5 383.4,226.8 383.7,227.2 384.0,227.5 384.4,227.8 384.7,228.2 385.0,228.5 385.4,228.8 385.7,229.1 386.0,229.5 386.4,229.8 386.8,230.2 387.1,230.6 387.4,230.9 387.8,231.2 388.1,231.6 388.5,231.9 388.8,232.3 389.1,232.6 389.5,232.9 389.8,233.3 390.1,233.6 390.4,233.9 390.8,234.3 391.1,234.6 391.5,235.0 391.8,235.3 392.1,235.7 392.5,236.0 392.8,236.4 393.1,236.7 393.4,237.0 393.8,237.4 394.1,237.7 394.4,238.0 394.7,238.4 395.0,238.7 395.4,239.1 395.7,239.4 396.0,239.8 396.4,240.1 396.7,240.5 397.0,240.8 397.3,241.1 397.6,241.5 398.0,241.8 398.3,242.2 398.6,242.5 399.0,242.9 399.3,243.2 399.6,243.5 399.9,243.9 400.3,244.2 400.6,244.6 400.9,244.9 401.2,245.2 401.5,245.6 401.9,245.9 402.2,246.3 402.5,246.6 402.8,247.0 403.2,247.3 403.5,247.6 403.8,248.0 404.1,248.3 404.4,248.7 404.8,249.0 405.1,249.4 405.4,249.7 405.7,250.0 406.0,250.4 406.4,250.7 406.7,251.0 407.0,251.4 407.3,251.8 407.6,252.1 407.9,252.4 408.3,252.8 408.6,253.1 408.9,253.5 409.2,253.8 409.5,254.2 409.8,254.5 410.1,254.9 410.5,255.2 410.8,255.6 411.1,255.9 411.4,256.2 411.7,256.6 412.0,256.9 412.3,257.3 412.6,257.6 412.9,258.0 413.2,258.3 413.5,258.7 413.8,259.0 414.2,259.4 414.5,259.7 414.8,260.1 415.1,260.4 415.4,260.8 415.7,261.1 416.0,261.5 416.3,261.8 416.6,262.2 416.9,262.5 417.2,262.9 417.5,263.2 417.8,263.6 418.1,263.9 418.4,264.3 418.7,264.6 419.0,265.0 419.3,265.3 419.6,265.7 419.9,266.0 420.2,266.4 420.5,266.7 420.8,267.1 421.1,267.4 421.4,267.7 421.7,268.1 422.0,268.4 422.3,268.8 422.6,269.2 422.9,269.5 423.2,269.8 423.5,270.2 423.8,270.6 424.1,270.9 424.4,271.3 424.7,271.6 425.0,272.0 425.3,272.3 425.6,272.7 425.9,273.0 426.2,273.4 426.5,273.7 426.8,274.1 427.1,274.4 427.2,274.5" fill="none" stroke="none" marker-start="url(#m_magenta)" marker-mid="url(#m_magenta)" marker-end="url(#m_magenta)"/>
<polyline points="88.9,12.5 106.5,12.7 131.4,14.2 145.1,15.5 154.7,16.6 162.0,17.7 167.9,18.9 172.9,20.1 177.2,21.2 181.0,22.1 184.4,22.8 187.5,23.5 190.3,24.1 192.8,24.6 195.2,25.1 197.4,25.5 199.5,25.9 201.4,26.2 203.2,26.6 204.9,26.9 206.6,27.1 208.1,27.4 209.6,27.7 211.0,27.9 212.4,28.1 213.7,28.3 214.9,28.4 216.1,28.6 217.3,28.7 218.4,28.8 219.5,29.0 220.5,29.0 221.5,29.1 223.4,29.3 225.3,29.4 227.0,29.5 228.6,29.6 230.1,29.7 231.6,29.7 233.0,29.8 234.4,29.8 235.7,29.9 236.9,30.0 238.1,30.0 239.3,30.1 240.4,30.1 241.4,30.2 242.5,30.2 243.5,30.3 244.9,30.4 246.3,30.5 247.6,30.6 248.9,30.7 250.1,30.8 251.3,30.9 252.5,31.1 253.6,31.2 254.6,31.4 255.6,31.6 256.6,31.8 257.9,32.0 259.1,32.3 260.3,32.5 261.5,32.8 262.6,33.0 263.6,33.3 264.7,33.5 265.7,33.8 266.9,34.1 268.0,34.4 269.1,34.7 270.2,35.0 271.3,35.3 272.3,35.5 273.2,35.8 274.4,36.1 275.5,36.4 276.5,36.7 277.6,36.9 278.6,37.2 279.7,37.4 280.8,37.7 281.8,37.9 282.8,38.2 283.8,38.4 284.9,38.6 285.9,38.9 286.9,39.1 287.9,39.4 289.0,39.6 290.0,39.9 291.0,40.1 292.0,40.3 293.1,40.6 294.1,40.8 295.0,41.1 296.1,41.3 297.1,41.6 298.1,41.8 299.1,42.1 300.1,42.3 301.1,42.6 302.1,42.8 303.1,43.1 304.1,43.3 305.1,43.6 306.2,43.8 307.2,44.1 308.1,44.3 309.1,44.6 310.1,44.8 311.1,45.1 312.1,45.3 313.1,45.6 314.1,45.8 315.1,46.1 316.1,46.3 317.1,46.6 318.1,46.8 319.1,47.1 320.1,47.3 321.1,47.6 322.1,47.8 323.0,48.1 324.0,48.3 325.0,48.6 326.0,48.8 327.0,49.1 328.0,49.3 328.9,49.6 329.9,49.8 330.9,50.1 331.9,50.3 332.8,50.6 333.8,50.9 334.8,51.1 335.8,51.4 336.7,51.6 337.7,51.9 338.7,52.1 339.7,52.4 340.7,52.6 341.6,52.9 342.6,53.2 343.6,53.4 344.6,53.7 345.5,53.9 352.2,55.7 353.3,56.0 354.3,56.3 355.3,56.6 356.3,56.9 357.3,57.2 358.3,57.5 359.3,57.8 360.3,58.1 361.3,58.4 362.3,58.7 363.3,59.0 364.3,59.3 365.3,59.6 366.3,59.9 367.3,60.2 368.3,60.5 369.3,60.8 370.3,61.0 371.3,61.3 372.3,61.6 373.3,61.9 374.3,62.2 375.2,62.5 376.2,62.8 377.2,63.1 378.2,63.4 379.2,63.7 380.2,64.0 381.1,64.3 382.1,64.6 383.1,64.8 384.1,65.1 385.1,65.4 386.0,65.7 387.0,66.0 388.0,66.3 389.0,66.6 389.9,66.9 390.9,67.2 391.9,67.5 392.9,67.7 393.8,68.0 394.8,68.3 395.8,68.6 396.8,68.9 397.7,69.2 398.7,69.5 399.7,69.8 400.7,70.0 401.7,70.3 402.6,70.6 403.6,70.9 404.6,71.2 405.5,71.5 406.5,71.8 407.5,72.1 408.4,72.4 409.4,72.6 410.4,72.9 411.3,73.2 412.3,73.5 413.3,73.8 414.2,74.2 415.2,74.5 416.1,74.8 417.1,75.1 418.1,75.4 419.0,75.7 420.0,76.0 420.9,76.4 421.9,76.7 422.8,77.0 423.8,77.3 424.7,77.7 425.7,78.0 426.6,78.3 427.2,78.5" fill="none" stroke="#00ffff" stroke-width="1" stroke-dasharray="4.6 1.15 1.1 1.15"/>
<polyline points="106.5,12.7 131.4,14.2 145.1,15.5 154.7,16.6 162.0,17.7 167.9,18.9 172.9,20.1 177.2,21.2 181.0,22.1 184.4,22.8 187.5,23.5 190.3,24.1 192.8,24.6 195.2,25.1 197.4,25.5 199.5,25.9 201.4,26.2 203.2,26.6 204.9,26.9 206.6,27.1 208.1,27.4 209.6,27.7 211.0,27.9 212.4,28.1 213.7,28.3 214.9,28.4 216.1,28.6 217.3,28.7 218.4,28.8 219.5,29.0 220.5,29.0 221.5,29.1 222.5,29.2 223.4,29.3 224.4,29.3 225.3,29.4 226.1,29.4 227.0,29.5 227.8,29.5 228.6,29.6 229.4,29.6 230.1,29.7 230.9,29.7 231.6,29.7 232.3,29.8 233.0,29.8 233.7,29.8 234.4,29.8 235.0,29.9 235.7,29.9 236.3,29.9 236.9,30.0 237.5,30.0 238.1,30.0 238.7,30.0 239.3,30.1 239.8,30.1 240.4,30.1 240.9,30.2 241.4,30.2 242.0,30.2 242.5,30.2 243.0,30.3 243.5,30.3 244.0,30.3 244.5,30.4 244.9,30.4 245.4,30.4 245.9,30.5 246.3,30.5 246.8,30.5 247.6,30.6 248.5,30.7 249.3,30.7 250.1,30.8 250.9,30.9 251.7,31.0 252.5,31.1 253.2,31.2 253.9,31.3 254.6,31.4 255.3,31.5 256.0,31.6 256.6,31.8 257.3,31.9 257.9,32.0 258.5,32.1 259.1,32.3 259.7,32.4 260.3,32.5 260.9,32.6 261.5,32.8 262.0,32.9 262.6,33.0 263.1,33.2 263.6,33.3 264.1,33.4 264.7,33.5 265.2,33.7 265.7,33.8 266.1,33.9 266.6,34.1 267.1,34.2 267.6,34.3 268.0,34.4 268.5,34.5 268.9,34.7 269.4,34.8 270.0,34.9 270.6,35.1 271.3,35.3 271.9,35.4 272.5,35.6 273.1,35.8 273.6,35.9 274.2,36.1 274.7,36.2 275.3,36.3 275.8,36.5 276.4,36.6 276.9,36.7 277.4,36.9 277.9,37.0 278.4,37.1 278.9,37.2 279.4,37.3 279.8,37.5 280.3,37.6 280.8,37.7 281.2,37.8 281.7,37.9 282.1,38.0 282.7,38.1 283.2,38.3 283.8,38.4 284.3,38.5 284.9,38.6 285.4,38.8 285.9,38.9 286.4,39.0 286.9,39.1 287.4,39.2 287.9,39.4 288.4,39.5 288.9,39.6 289.3,39.7 289.8,39.8 290.3,39.9 290.7,40.0 291.1,40.1 291.7,40.3 292.2,40.4 292.7,40.5 293.3,40.6 293.8,40.8 294.3,40.9 294.8,41.0 295.2,41.1 295.7,41.2 296.2,41.4 296.6,41.5 297.1,41.6 297.6,41.7 298.0,41.8 298.5,41.9 299.0,42.1 299.5,42.2 300.0,42.3 300.5,42.4 301.0,42.6 301.5,42.7 302.0,42.8 302.4,42.9 302.9,43.0 303.3,43.1 303.8,43.2 304.3,43.4 304.8,43.5 305.3,43.6 305.8,43.7 306.2,43.8 306.7,44.0 307.2,44.1 307.6,44.2 308.1,44.3 308.5,44.4 309.0,44.5 309.5,44.6 309.9,44.8 310.4,44.9 310.9,45.0 311.4,45.1 311.8,45.2 312.3,45.4 312.7,45.5 313.1,45.6 313.6,45.7 314.1,45.8 314.6,45.9 315.1,46.1 315.5,46.2 316.0,46.3 316.4,46.4 316.8,46.5 317.3,46.6 317.8,46.7 318.3,46.9 318.7,47.0 319.2,47.1 319.6,47.2 320.1,47.3 320.5,47.4 321.0,47.6 321.5,47.7 321.9,47.8 322.4,47.9 322.8,48.0 323.3,48.1 323.7,48.3 324.2,48.4 324.7,48.5 325.1,48.6 325.6,48.7 326.0,48.8 326.5,49.0 326.9,49.1 327.4,49.2 327.8,49.3 328.3,49.4 328.7,49.5 329.2,49.7 329.6,49.8 330.1,49.9 330.5,50.0 331.0,50.1 331.4,50.2 331.9,50.4 332.3,50.5 332.8,50.6 333.2,50.7 333.7,50.8 334.2,50.9 334.6,51.1 335.0,51.2 335.5,51.3 336.0,51.4 336.4,51.5 336.8,51.6 337.3,51.8 337.7,51.9 338.2,52.0 338.6,52.1 339.1,52.2 339.5,52.3 340.0,52.5 340.4,52.6 340.9,52.7 341.3,52.8 341.8,52.9 342.2,53.1 342.7,53.2 343.1,53.3 343.6,53.4 344.0,53.5 344.5,53.6 344.9,53.8 345.3,53.9 345.8,54.0 346.2,54.1 346.5,54.2" fill="none" stroke="none" marker-start="url(#m_cyan)" marker-mid="url(#m_cyan)" marker-end="url(#m_cyan)"/>
<polyline points="352.2,55.7 352.8,55.9 353.3,56.0 353.8,56.2 354.3,56.3 354.8,56.5 355.3,56.6 355.7,56.8 356.2,56.9 356.7,57.0 357.1,57.2 357.6,57.3 358.0,57.4 358.4,57.6 359.0,57.7 359.5,57.9 360.0,58.0 360.5,58.2 361.0,58.3 361.5,58.5 362.0,58.6 362.5,58.7 363.0,58.9 363.4,59.0 363.9,59.2 364.3,59.3 364.8,59.4 365.2,59.5 365.7,59.7 366.2,59.8 366.7,60.0 367.2,60.1 367.7,60.3 368.1,60.4 368.6,60.5 369.1,60.7 369.5,60.8 370.0,61.0 370.4,61.1 370.9,61.2 371.3,61.3 371.8,61.5 372.3,61.6 372.8,61.8 373.3,61.9 373.7,62.1 374.2,62.2 374.6,62.3 375.1,62.5 375.5,62.6 376.0,62.7 376.5,62.9 377.0,63.0 377.4,63.2 377.9,63.3 378.4,63.4 378.8,63.6 379.3,63.7 379.7,63.8 380.2,64.0 380.6,64.1 381.1,64.2 381.5,64.4 382.0,64.5 382.5,64.7 382.9,64.8 383.4,64.9 383.8,65.1 384.2,65.2 384.7,65.3 385.2,65.5 385.6,65.6 386.1,65.7 386.5,65.9 387.0,66.0 387.4,66.1 387.9,66.3 388.3,66.4 388.8,66.5 389.3,66.7 389.7,66.8 390.1,66.9 390.6,67.1 391.0,67.2 391.5,67.3 391.9,67.5 392.4,67.6 392.8,67.7 393.3,67.9 393.7,68.0 394.2,68.1 394.6,68.3 395.1,68.4 395.5,68.5 396.0,68.7 396.4,68.8 396.9,68.9 397.3,69.1 397.8,69.2 398.2,69.3 398.7,69.5 399.1,69.6 399.6,69.7 400.0,69.8 400.4,70.0 400.9,70.1 401.3,70.2 401.8,70.4 402.2,70.5 402.7,70.6 403.1,70.8 403.6,70.9 404.0,71.0 404.4,71.2 404.9,71.3 405.3,71.4 405.8,71.6 406.2,71.7 406.7,71.8 407.1,72.0 407.5,72.1 408.0,72.2 408.4,72.4 408.9,72.5 409.3,72.6 409.7,72.8 410.2,72.9 410.6,73.0 411.1,73.2 411.5,73.3 411.9,73.4 412.4,73.6 412.8,73.7 413.3,73.8 413.7,74.0 414.1,74.1 414.6,74.3 415.0,74.4 415.4,74.5 415.9,74.7 416.3,74.8 416.7,75.0 417.2,75.1 417.6,75.2 418.0,75.4 418.5,75.5 418.9,75.7 419.3,75.8 419.8,76.0 420.2,76.1 420.7,76.3 421.1,76.4 421.5,76.6 421.9,76.7 422.4,76.8 422.8,77.0 423.3,77.1 423.7,77.3 424.1,77.4 424.5,77.6 425.0,77.7 425.4,77.9 425.8,78.0 426.3,78.2 426.7,78.3 427.1,78.5 427.2,78.5" fill="none" stroke="none" marker-start="url(#m_cyan)" marker-mid="url(#m_cyan)" marker-end="url(#m_cyan)"/>
<polyline points="88.9,15.0 106.5,15.2 131.4,17.0 145.1,20.3 154.7,23.1 162.0,25.0 167.9,26.1 172.9,26.9 177.2,27.5 181.0,27.9 184.4,28.3 187.5,28.5 190.3,28.7 192.8,28.9 195.2,29.1 197.4,29.3 199.5,29.5 201.4,29.6 203.2,29.8 204.9,30.0 206.6,30.2 208.1,30.3 209.6,30.5 211.0,30.6 212.4,30.8 213.7,30.9 214.9,31.1 216.1,31.2 217.3,31.4 218.4,31.5 219.5,31.6 220.5,31.8 221.5,31.9 223.4,32.1 225.3,32.4 227.0,32.6 228.6,32.9 230.1,33.1 231.6,33.3 233.0,33.5 234.4,33.7 235.7,33.9 236.9,34.1 238.1,34.3 239.3,34.4 240.4,34.6 241.4,34.8 242.5,34.9 243.5,35.1 244.9,35.3 246.3,35.5 247.6,35.7 248.9,35.9 250.1,36.1 251.3,36.3 252.5,36.5 253.6,36.6 254.6,36.8 255.6,36.9 256.6,37.1 257.9,37.3 259.1,37.5 260.3,37.6 261.5,37.8 262.6,38.0 263.6,38.1 264.7,38.3 265.7,38.4 266.9,38.6 268.0,38.8 269.1,39.0 270.2,39.1 271.3,39.3 272.3,39.5 273.4,39.7 274.6,39.9 275.7,40.0 276.7,40.2 277.7,40.4 278.7,40.6 279.8,40.8 280.9,41.0 281.9,41.2 283.0,41.4 284.1,41.6 285.1,41.8 286.2,42.0 287.2,42.2 288.3,42.5 289.3,42.7 290.4,42.9 291.4,43.1 292.4,43.4 293.5,43.6 294.5,43.8 295.5,44.0 296.6,44.3 297.6,44.5 298.6,44.7 299.6,44.9 300.6,45.1 301.6,45.3 302.7,45.6 303.7,45.8 304.7,46.0 305.7,46.2 306.7,46.4 307.7,46.6 308.7,46.8 309.7,47.0 310.7,47.2 311.7,47.4 312.7,47.6 313.7,47.8 314.7,48.0 315.8,48.2 316.7,48.4 317.8,48.6 318.8,48.8 319.8,49.0 320.8,49.2 321.8,49.4 322.8,49.6 323.8,49.8 324.8,50.0 325.8,50.2 326.8,50.4 327.8,50.6 328.8,50.9 329.8,51.1 330.8,51.3 331.7,51.5 332.7,51.7 333.7,51.9 334.7,52.2 335.7,52.4 336.7,52.6 337.6,52.8 338.6,53.1 339.6,53.3 340.6,53.5 341.6,53.8 342.6,54.0 343.5,54.3 344.5,54.6 345.5,54.8 346.5,55.1 352.2,56.7 353.3,57.0 354.3,57.3 355.3,57.6 356.3,57.9 357.3,58.1 358.3,58.4 359.4,58.7 360.4,59.0 361.4,59.3 362.4,59.5 363.4,59.8 364.4,60.1 365.4,60.4 366.4,60.7 367.4,60.9 368.4,61.2 369.5,61.5 370.4,61.8 371.5,62.1 372.4,62.4 373.5,62.7 374.5,62.9 375.5,63.2 376.5,63.5 377.4,63.8 378.4,64.1 379.4,64.4 380.4,64.6 381.4,64.9 382.4,65.2 383.4,65.5 384.4,65.8 385.4,66.1 386.4,66.3 387.3,66.6 388.3,66.9 389.3,67.2 390.3,67.5 391.2,67.8 392.2,68.0 393.2,68.3 394.2,68.6 395.2,68.9 396.1,69.2 397.1,69.4 398.1,69.7 399.1,70.0 400.0,70.3 401.0,70.6 402.0,70.8 402.9,71.1 403.9,71.4 404.9,71.7 405.8,72.0 406.8,72.3 407.8,72.5 408.7,72.8 409.7,73.1 410.7,73.4 411.7,73.7 412.6,74.0 413.6,74.3 414.6,74.6 415.5,74.9 416.5,75.2 417.4,75.5 418.4,75.8 419.3,76.1 420.3,76.5 421.3,76.8 422.2,77.1 423.2,77.4 424.1,77.8 425.1,78.1 426.1,78.4 427.0,78.8 427.2,78.8" fill="none" stroke="#ffff00" stroke-width="1" stroke-dasharray="2.3 1.8 1.1 1.65"/>
<polyline points="106.5,15.2 131.4,17.0 145.1,20.3 154.7,23.1 162.0,25.0 167.9,26.1 172.9,26.9 177.2,27.5 181.0,27.9 184.4,28.3 187.5,28.5 190.3,28.7 192.8,28.9 195.2,29.1 197.4,29.3 199.5,29.5 201.4,29.6 203.2,29.8 204.9,30.0 206.6,30.2 208.1,30.3 209.6,30.5 211.0,30.6 212.4,30.8 213.7,30.9 214.9,31.1 216.1,31.2 217.3,31.4 218.4,31.5 219.5,31.6 220.5,31.8 221.5,31.9 222.5,32.0 223.4,32.1 224.4,32.3 225.3,32.4 226.1,32.5 227.0,32.6 227.8,32.7 228.6,32.9 229.4,33.0 230.1,33.1 230.9,33.2 231.6,33.3 232.3,33.4 233.0,33.5 233.7,33.6 234.4,33.7 235.0,33.8 235.7,33.9 236.3,34.0 236.9,34.1 237.5,34.2 238.1,34.3 238.7,34.4 239.3,34.4 239.8,34.5 240.4,34.6 240.9,34.7 241.4,34.8 242.0,34.9 242.5,34.9 243.0,35.0 243.5,35.1 244.0,35.2 244.5,35.3 244.9,35.3 245.4,35.4 245.9,35.5 246.3,35.5 246.8,35.6 247.6,35.7 248.5,35.9 249.3,36.0 250.1,36.1 250.9,36.2 251.7,36.4 252.5,36.5 253.2,36.6 253.9,36.7 254.6,36.8 255.3,36.9 256.0,37.0 256.6,37.1 257.3,37.2 257.9,37.3 258.5,37.4 259.1,37.5 259.7,37.6 260.3,37.6 260.9,37.7 261.5,37.8 262.0,37.9 262.6,38.0 263.1,38.1 263.6,38.1 264.1,38.2 264.7,38.3 265.2,38.4 265.7,38.4 266.1,38.5 266.6,38.6 267.1,38.7 267.6,38.7 268.0,38.8 268.5,38.9 268.9,38.9 269.6,39.0 270.2,39.1 270.8,39.2 271.5,39.3 272.1,39.4 272.7,39.5 273.2,39.6 273.8,39.7 274.4,39.8 274.9,39.9 275.5,40.0 276.0,40.1 276.5,40.2 277.1,40.3 277.6,40.4 278.1,40.5 278.6,40.5 279.0,40.6 279.5,40.7 280.0,40.8 280.4,40.9 280.9,41.0 281.4,41.1 281.8,41.1 282.4,41.2 283.0,41.4 283.5,41.5 284.1,41.6 284.6,41.7 285.1,41.8 285.7,41.9 286.2,42.0 286.7,42.1 287.2,42.2 287.7,42.3 288.2,42.4 288.6,42.5 289.1,42.6 289.6,42.7 290.0,42.8 290.5,42.9 290.9,43.0 291.5,43.1 292.0,43.3 292.5,43.4 293.1,43.5 293.6,43.6 294.1,43.7 294.6,43.8 295.0,43.9 295.5,44.0 296.0,44.1 296.5,44.2 296.9,44.3 297.4,44.4 297.8,44.5 298.3,44.6 298.9,44.8 299.4,44.9 299.9,45.0 300.4,45.1 300.9,45.2 301.3,45.3 301.8,45.4 302.3,45.5 302.7,45.6 303.2,45.7 303.6,45.8 304.1,45.9 304.6,46.0 305.1,46.1 305.6,46.2 306.1,46.3 306.6,46.4 307.0,46.4 307.5,46.5 308.0,46.6 308.4,46.7 308.9,46.8 309.4,46.9 309.9,47.0 310.4,47.1 310.8,47.2 311.3,47.3 311.8,47.4 312.2,47.5 312.7,47.6 313.1,47.7 313.6,47.8 314.1,47.9 314.6,48.0 315.1,48.0 315.5,48.1 316.0,48.2 316.4,48.3 316.9,48.4 317.4,48.5 317.8,48.6 318.3,48.7 318.8,48.8 319.2,48.9 319.7,49.0 320.2,49.1 320.6,49.2 321.1,49.3 321.6,49.4 322.0,49.4 322.5,49.5 322.9,49.6 323.4,49.7 323.9,49.8 324.3,49.9 324.8,50.0 325.2,50.1 325.7,50.2 326.1,50.3 326.6,50.4 327.1,50.5 327.5,50.6 328.0,50.7 328.4,50.8 328.9,50.9 329.4,51.0 329.8,51.1 330.3,51.2 330.7,51.3 331.2,51.4 331.6,51.5 332.1,51.6 332.5,51.7 333.0,51.8 333.4,51.9 333.9,52.0 334.4,52.1 334.8,52.2 335.3,52.3 335.7,52.4 336.2,52.5 336.6,52.6 337.1,52.7 337.5,52.8 338.0,52.9 338.4,53.0 338.9,53.1 339.3,53.2 339.8,53.3 340.2,53.5 340.7,53.6 341.1,53.7 341.6,53.8 342.0,53.9 342.5,54.0 342.9,54.1 343.4,54.3 343.8,54.4 344.3,54.5 344.7,54.6 345.1,54.7 345.6,54.9 346.0,55.0 346.5,55.1" fill="none" stroke="none" marker-start="url(#m_yellow)" marker-mid="url(#m_yellow)" marker-end="url(#m_yellow)"/>
<polyline points="352.2,56.7 352.8,56.9 353.3,57.0 353.8,57.2 354.3,57.3 354.8,57.4 355.3,57.6 355.7,57.7 356.2,57.8 356.7,57.9 357.1,58.1 357.6,58.2 358.0,58.3 358.4,58.4 359.0,58.6 359.5,58.7 360.0,58.9 360.5,59.0 361.0,59.2 361.5,59.3 362.0,59.4 362.5,59.6 363.0,59.7 363.4,59.8 363.9,60.0 364.3,60.1 364.8,60.2 365.2,60.3 365.7,60.5 366.2,60.6 366.8,60.8 367.2,60.9 367.7,61.0 368.2,61.2 368.7,61.3 369.1,61.4 369.6,61.6 370.1,61.7 370.5,61.8 370.9,61.9 371.4,62.1 371.9,62.2 372.4,62.3 372.9,62.5 373.3,62.6 373.8,62.7 374.3,62.9 374.7,63.0 375.2,63.1 375.6,63.3 376.0,63.4 376.5,63.5 377.0,63.7 377.5,63.8 378.0,63.9 378.4,64.1 378.9,64.2 379.3,64.3 379.8,64.5 380.2,64.6 380.7,64.7 381.2,64.9 381.6,65.0 382.1,65.1 382.6,65.3 383.0,65.4 383.5,65.5 383.9,65.6 384.4,65.8 384.8,65.9 385.3,66.0 385.8,66.2 386.2,66.3 386.7,66.4 387.1,66.6 387.5,66.7 388.0,66.8 388.5,67.0 388.9,67.1 389.4,67.2 389.8,67.3 390.3,67.5 390.7,67.6 391.2,67.7 391.6,67.9 392.1,68.0 392.5,68.1 393.0,68.3 393.4,68.4 393.9,68.5 394.4,68.7 394.8,68.8 395.2,68.9 395.7,69.0 396.1,69.2 396.6,69.3 397.0,69.4 397.5,69.6 397.9,69.7 398.4,69.8 398.8,69.9 399.3,70.1 399.7,70.2 400.2,70.3 400.6,70.5 401.1,70.6 401.5,70.7 402.0,70.8 402.4,71.0 402.8,71.1 403.3,71.2 403.7,71.4 404.2,71.5 404.6,71.6 405.1,71.7 405.5,71.9 405.9,72.0 406.4,72.1 406.8,72.3 407.3,72.4 407.7,72.5 408.2,72.7 408.6,72.8 409.1,72.9 409.5,73.0 409.9,73.2 410.4,73.3 410.8,73.4 411.3,73.6 411.7,73.7 412.1,73.9 412.6,74.0 413.0,74.1 413.5,74.3 413.9,74.4 414.3,74.5 414.8,74.7 415.2,74.8 415.6,74.9 416.1,75.1 416.5,75.2 417.0,75.4 417.4,75.5 417.8,75.7 418.3,75.8 418.7,75.9 419.1,76.1 419.6,76.2 420.0,76.4 420.4,76.5 420.9,76.7 421.3,76.8 421.7,76.9 422.2,77.1 422.6,77.2 423.0,77.4 423.5,77.5 423.9,77.7 424.3,77.8 424.8,78.0 425.2,78.1 425.6,78.3 426.1,78.4 426.5,78.6 426.9,78.7 427.2,78.8" fill="none" stroke="none" marker-start="url(#m_yellow)" marker-mid="url(#m_yellow)" marker-end="url(#m_yellow)"/>
<polyline points="88.9,11.5 106.5,11.7 131.4,13.4 145.1,16.0 154.7,18.9 162.0,21.8 167.9,24.6 172.9,27.4 177.2,30.1 181.0,32.8 184.4,35.8 187.5,38.9 190.3,42.1 192.8,45.1 195.2,47.8 197.4,50.3 199.5,52.6 201.4,54.9 203.2,57.0 204.9,59.0 206.6,60.9 208.1,62.6 209.6,64.3 211.0,65.9 212.4,67.4 213.7,68.9 214.9,70.4 216.1,71.9 217.3,73.3 218.4,74.8 219.5,76.1 220.5,77.5 221.5,78.8 222.5,80.0 223.4,81.2 224.4,82.3 225.3,83.4 226.1,84.4 227.0,85.4 227.8,86.4 228.6,87.4 229.4,88.3 230.1,89.1 230.9,89.9 231.6,90.7 232.3,91.5 233.0,92.2 234.4,93.5 235.7,94.8 236.9,96.0 238.1,97.2 239.3,98.2 240.4,99.3 241.4,100.2 242.5,101.2 243.5,102.1 244.5,103.0 245.4,103.8 246.3,104.6 247.2,105.4 248.1,106.2 248.9,107.0 249.7,107.7 250.5,108.4 251.3,109.1 252.1,109.8 252.8,110.5 253.9,111.5 255.0,112.4 256.0,113.3 257.0,114.2 257.9,115.1 258.8,115.9 259.7,116.7 260.6,117.5 261.5,118.2 262.3,119.0 263.1,119.7 263.9,120.4 264.7,121.0 265.7,121.9 266.6,122.8 267.6,123.6 268.5,124.4 269.4,125.2 270.2,125.9 271.0,126.6 271.9,127.4 272.7,128.0 273.4,128.7 274.2,129.4 275.1,130.2 276.0,131.0 276.9,131.7 277.7,132.4 278.6,133.2 279.4,133.9 280.1,134.5 280.9,135.2 281.8,136.0 282.7,136.7 283.5,137.5 284.3,138.2 285.1,138.9 285.9,139.5 286.7,140.2 287.6,140.9 288.4,141.7 289.2,142.4 290.0,143.1 290.8,143.8 291.6,144.4 292.4,145.2 293.3,145.9 294.1,146.6 294.9,147.2 295.6,147.9 296.5,148.6 297.3,149.3 298.1,150.0 298.9,150.7 299.6,151.4 300.5,152.1 301.3,152.8 302.0,153.5 302.8,154.1 303.6,154.9 304.4,155.5 305.2,156.2 306.0,156.9 306.8,157.6 307.6,158.3 308.3,159.0 309.1,159.7 309.9,160.4 310.7,161.1 311.5,161.7 312.3,162.4 313.0,163.1 313.8,163.7 314.6,164.4 315.4,165.1 316.2,165.8 316.9,166.5 317.7,167.2 318.5,167.9 319.3,168.5 320.0,169.2 320.8,169.9 321.6,170.5 322.3,171.2 323.1,171.9 323.9,172.6 324.7,173.2 325.4,173.9 326.2,174.6 327.0,175.3 327.8,176.0 328.5,176.6 329.3,177.3 330.1,178.0 330.8,178.6 331.6,179.3 332.4,180.0 333.1,180.7 333.9,181.3 334.7,182.0 335.4,182.7 336.2,183.3 337.0,184.0 337.7,184.7 338.5,185.3 339.3,186.0 340.0,186.7 340.8,187.3 341.5,188.0 342.3,188.7 343.1,189.4 343.8,190.0 344.6,190.7 345.4,191.3 346.1,192.0 352.2,198.9 353.1,199.6 354.0,200.2 354.9,200.9 355.7,201.5 356.5,202.2 357.3,202.8 358.2,203.5 359.1,204.2 359.9,204.9 360.7,205.6 361.5,206.2 362.3,206.9 363.1,207.6 364.0,208.3 364.8,208.9 365.6,209.6 366.3,210.3 367.2,211.0 368.0,211.7 368.8,212.4 369.5,213.1 370.3,213.7 371.1,214.4 371.9,215.1 372.6,215.8 373.4,216.5 374.2,217.2 375.0,218.0 375.7,218.7 376.5,219.4 377.3,220.1 378.0,220.8 378.8,221.5 379.5,222.2 380.3,222.9 381.0,223.7 381.7,224.4 382.5,225.1 383.3,225.9 384.0,226.6 384.7,227.3 385.4,228.0 386.2,228.7 386.9,229.5 387.6,230.2 388.3,230.9 389.0,231.7 389.8,232.4 390.5,233.1 391.2,233.9 391.9,234.6 392.6,235.4 393.3,236.1 394.0,236.9 394.7,237.6 395.4,238.4 396.1,239.1 396.9,239.8 397.6,240.6 398.3,241.3 399.0,242.0 399.7,242.8 400.4,243.5 401.1,244.3 401.8,245.0 402.6,245.7 403.3,246.5 404.0,247.2 404.7,248.0 405.4,248.7 406.1,249.5 406.8,250.2 407.4,251.0 408.1,251.7 408.8,252.4 409.5,253.2 410.2,253.9 410.8,254.7 411.5,255.5 413.5,260.5 415.3,260.5 416.5,267.4 421.4,267.4 422.1,293.4" fill="none" stroke="#000000" stroke-width="1" stroke-dasharray="2.1 0.65 2.1 3.15"/>
<polyline points="106.5,11.7 131.4,13.4 145.1,16.0 154.7,18.9 162.0,21.8 167.9,24.6 172.9,27.4 177.2,30.1 181.0,32.8 184.4,35.8 187.5,38.9 190.3,42.1 192.8,45.1 195.2,47.8 197.4,50.3 199.5,52.6 201.4,54.9 203.2,57.0 204.9,59.0 206.6,60.9 208.1,62.6 209.6,64.3 211.0,65.9 212.4,67.4 213.7,68.9 214.9,70.4 216.1,71.9 217.3,73.3 218.4,74.8 219.5,76.1 220.5,77.5 221.5,78.8 222.5,80.0 223.4,81.2 224.4,82.3 225.3,83.4 226.1,84.4 227.0,85.4 227.8,86.4 228.6,87.4 229.4,88.3 230.1,89.1 230.9,89.9 231.6,90.7 232.3,91.5 233.0,92.2 233.7,92.9 234.4,93.5 235.0,94.2 235.7,94.8 236.3,95.4 236.9,96.0 237.5,96.6 238.1,97.2 238.7,97.7 239.3,98.2 239.8,98.7 240.4,99.3 240.9,99.7 241.4,100.2 242.0,100.7 242.5,101.2 243.0,101.6 243.5,102.1 244.0,102.5 244.5,103.0 244.9,103.4 245.4,103.8 245.9,104.2 246.3,104.6 246.8,105.0 247.2,105.4 247.6,105.8 248.1,106.2 248.5,106.6 248.9,107.0 249.3,107.3 249.7,107.7 250.1,108.1 250.5,108.4 250.9,108.8 251.3,109.1 251.7,109.5 252.1,109.8 252.5,110.2 252.8,110.5 253.2,110.8 253.6,111.2 253.9,111.5 254.3,111.8 254.6,112.1 255.0,112.4 255.3,112.7 255.6,113.0 256.3,113.6 257.0,114.2 257.6,114.8 258.2,115.3 258.8,115.9 259.4,116.4 260.0,117.0 260.6,117.5 261.2,118.0 261.7,118.5 262.3,119.0 262.8,119.4 263.4,119.9 263.9,120.4 264.4,120.8 264.9,121.3 265.4,121.7 265.9,122.1 266.4,122.6 266.9,123.0 267.3,123.4 267.8,123.8 268.2,124.2 268.7,124.6 269.1,125.0 269.6,125.4 270.0,125.7 270.4,126.1 270.8,126.5 271.3,126.8 271.7,127.2 272.1,127.5 272.5,127.9 272.9,128.2 273.2,128.6 273.6,128.9 274.0,129.2 274.4,129.5 274.7,129.9 275.1,130.2 275.5,130.5 275.8,130.8 276.2,131.1 276.5,131.4 276.9,131.7 277.2,132.0 277.7,132.4 278.2,132.9 278.7,133.3 279.2,133.7 279.7,134.1 280.1,134.5 280.6,134.9 281.1,135.3 281.5,135.7 281.9,136.1 282.4,136.5 282.8,136.8 283.2,137.2 283.7,137.6 284.1,137.9 284.5,138.3 284.9,138.6 285.3,139.0 285.7,139.3 286.1,139.6 286.4,140.0 286.8,140.3 287.2,140.6 287.6,140.9 287.9,141.3 288.3,141.6 288.6,141.9 289.0,142.2 289.3,142.5 289.7,142.8 290.0,143.1 290.5,143.5 290.9,143.9 291.4,144.2 291.8,144.6 292.2,145.0 292.6,145.3 293.1,145.7 293.5,146.0 293.9,146.4 294.3,146.7 294.7,147.1 295.0,147.4 295.4,147.7 295.8,148.1 296.2,148.4 296.6,148.7 296.9,149.0 297.3,149.3 297.6,149.7 298.0,150.0 298.3,150.3 298.7,150.6 299.0,150.9 299.5,151.2 299.9,151.6 300.3,152.0 300.7,152.3 301.1,152.7 301.5,153.0 301.9,153.3 302.3,153.7 302.7,154.0 303.0,154.3 303.4,154.7 303.8,155.0 304.1,155.3 304.5,155.6 304.9,155.9 305.2,156.2 305.6,156.5 305.9,156.8 306.2,157.1 306.6,157.5 307.0,157.8 307.4,158.2 307.8,158.5 308.2,158.9 308.6,159.2 309.0,159.5 309.3,159.8 309.7,160.2 310.1,160.5 310.4,160.8 310.8,161.1 311.1,161.4 311.5,161.7 311.8,162.0 312.2,162.3 312.5,162.6 312.9,163.0 313.3,163.3 313.7,163.7 314.1,164.0 314.4,164.3 314.8,164.6 315.2,164.9 315.5,165.2 315.9,165.6 316.2,165.9 316.6,166.2 316.9,166.5 317.3,166.8 317.7,167.1 318.0,167.5 318.4,167.8 318.8,168.1 319.1,168.4 319.5,168.7 319.8,169.0 320.2,169.3 320.5,169.6 320.9,169.9 321.2,170.2 321.6,170.6 322.0,170.9 322.3,171.2 322.7,171.5 323.1,171.9 323.4,172.2 323.8,172.5 324.1,172.8 324.5,173.1 324.8,173.4 325.2,173.7 325.6,174.0 325.9,174.3 326.3,174.7 326.6,175.0 327.0,175.3 327.3,175.6 327.7,175.9 328.0,176.2 328.4,176.5 328.8,176.8 329.1,177.2 329.5,177.5 329.8,177.8 330.2,178.1 330.5,178.4 330.9,178.7 331.2,179.0 331.6,179.3 332.0,179.6 332.3,179.9 332.7,180.3 333.0,180.6 333.4,180.9 333.7,181.2 334.0,181.5 334.4,181.8 334.8,182.1 335.1,182.4 335.5,182.7 335.8,183.0 336.2,183.3 336.5,183.6 336.9,183.9 337.2,184.2 337.6,184.5 337.9,184.9 338.3,185.2 338.6,185.5 339.0,185.8 339.3,186.1 339.7,186.4 340.0,186.7 340.4,187.0 340.7,187.3 341.1,187.6 341.4,187.9 341.8,188.2 342.1,188.5 342.5,188.8 342.8,189.1 343.2,189.4 343.5,189.8 343.9,190.1 344.2,190.4 344.6,190.7 344.9,191.0 345.3,191.3 345.6,191.6 346.0,191.9 346.3,192.2 346.5,192.3" fill="none" stroke="none" marker-start="url(#m_black)" marker-mid="url(#m_black)" marker-end="url(#m_black)"/>
<polyline points="352.2,198.9 352.6,199.2 353.0,199.5 353.4,199.7 353.8,200.0 354.2,200.3 354.5,200.6 354.9,200.9 355.3,201.2 355.6,201.5 356.1,201.8 356.5,202.2 357.0,202.5 357.4,202.9 357.9,203.3 358.3,203.6 358.8,204.0 359.2,204.3 359.6,204.6 360.0,205.0 360.4,205.3 360.8,205.6 361.2,206.0 361.6,206.3 362.0,206.6 362.4,206.9 362.8,207.2 363.1,207.6 363.5,207.9 363.9,208.2 364.2,208.5 364.6,208.8 365.0,209.1 365.3,209.4 365.7,209.7 366.0,210.0 366.4,210.3 366.8,210.7 367.2,211.1 367.7,211.4 368.1,211.8 368.4,212.1 368.8,212.4 369.2,212.8 369.6,213.1 370.0,213.5 370.4,213.8 370.7,214.1 371.1,214.4 371.5,214.8 371.8,215.1 372.2,215.4 372.5,215.7 372.9,216.0 373.2,216.3 373.5,216.6 373.9,216.9 374.3,217.3 374.6,217.7 375.0,218.0 375.4,218.4 375.8,218.7 376.2,219.1 376.5,219.4 376.9,219.8 377.3,220.1 377.6,220.4 378.0,220.8 378.3,221.1 378.7,221.4 379.0,221.7 379.3,222.1 379.7,222.4 380.0,222.7 380.3,223.0 380.7,223.4 381.1,223.7 381.4,224.1 381.8,224.4 382.2,224.8 382.5,225.1 382.9,225.5 383.2,225.8 383.6,226.1 383.9,226.5 384.2,226.8 384.6,227.1 384.9,227.5 385.2,227.8 385.5,228.1 385.9,228.4 386.2,228.8 386.6,229.2 386.9,229.5 387.3,229.9 387.6,230.2 388.0,230.6 388.3,230.9 388.6,231.2 389.0,231.6 389.3,231.9 389.6,232.2 389.9,232.6 390.3,232.9 390.6,233.2 390.9,233.6 391.3,234.0 391.6,234.3 391.9,234.7 392.3,235.0 392.6,235.4 392.9,235.7 393.3,236.0 393.6,236.4 393.9,236.7 394.2,237.1 394.5,237.4 394.8,237.7 395.2,238.1 395.5,238.4 395.8,238.8 396.2,239.1 396.5,239.5 396.8,239.8 397.1,240.1 397.5,240.5 397.8,240.8 398.1,241.2 398.5,241.5 398.8,241.9 399.1,242.2 399.5,242.5 399.8,242.9 400.1,243.2 400.4,243.5 400.8,243.9 401.1,244.2 401.4,244.6 401.8,244.9 402.1,245.2 402.4,245.6 402.7,245.9 403.1,246.3 403.4,246.6 403.7,246.9 404.0,247.3 404.3,247.6 404.7,248.0 405.0,248.3 405.3,248.7 405.6,249.0 405.9,249.3 406.3,249.7 406.6,250.0 406.9,250.4 407.2,250.7 407.5,251.1 407.9,251.4 408.2,251.7 408.5,252.1 408.8,252.4 409.1,252.8 409.4,253.1 409.7,253.5 410.0,253.8 410.4,254.2 410.7,254.5 411.0,254.9 411.3,255.2 411.6,255.6 411.9,255.9 412.0,256.1 413.5,260.5 413.9,260.5 414.4,260.5 414.8,260.5 415.3,260.5 416.5,267.4 416.9,267.4 417.4,267.4 417.8,267.4 418.3,267.4 418.7,267.4 419.2,267.4 419.6,267.4 420.1,267.4 420.5,267.4 421.0,267.4" fill="none" stroke="none" marker-start="url(#m_black)" marker-mid="url(#m_black)" marker-end="url(#m_black)"/>
<polyline points="88.9,8.9 106.5,9.0 131.4,9.8 145.1,11.6 154.7,12.2 162.0,12.8 167.9,13.9 172.9,15.3 177.2,16.4 181.0,17.2 184.4,17.6 187.5,18.0 190.3,18.3 192.8,18.6 195.2,18.9 197.4,19.1 199.5,19.4 201.4,19.7 203.2,20.0 204.9,20.3 206.6,20.6 208.1,20.9 209.6,21.2 211.0,21.5 212.4,21.8 213.7,22.1 214.9,22.3 216.1,22.6 217.3,22.8 218.4,23.1 219.5,23.3 220.5,23.5 221.5,23.7 223.4,24.1 225.3,24.5 227.0,24.9 228.6,25.2 230.1,25.6 231.6,25.9 233.0,26.2 234.4,26.5 235.7,26.8 236.9,27.0 238.1,27.3 239.3,27.6 240.4,27.8 241.4,28.1 242.5,28.3 243.5,28.5 244.9,28.9 246.3,29.2 247.6,29.5 248.9,29.8 250.1,30.0 251.3,30.3 252.5,30.6 253.6,30.8 254.6,31.1 255.6,31.3 256.6,31.5 257.9,31.8 259.1,32.1 260.3,32.4 261.5,32.6 262.6,32.9 263.6,33.1 264.7,33.4 265.7,33.6 266.9,33.9 268.0,34.1 269.1,34.4 270.2,34.7 271.3,34.9 272.3,35.1 273.2,35.4 274.4,35.7 275.5,35.9 276.5,36.2 277.6,36.4 278.6,36.7 279.7,36.9 280.8,37.2 281.8,37.4 282.8,37.7 283.8,37.9 284.9,38.2 285.9,38.5 286.9,38.7 287.9,39.0 289.0,39.2 290.0,39.5 291.0,39.7 292.0,40.0 293.1,40.3 294.1,40.5 295.0,40.8 296.1,41.0 297.1,41.3 298.1,41.5 299.1,41.8 300.1,42.0 301.1,42.3 302.1,42.5 303.1,42.8 304.1,43.0 305.1,43.3 306.2,43.5 307.2,43.8 308.1,44.0 309.1,44.3 310.1,44.5 311.1,44.7 312.1,45.0 313.1,45.2 314.1,45.5 315.1,45.7 316.1,45.9 317.1,46.2 318.1,46.4 319.1,46.7 320.1,46.9 321.1,47.1 322.1,47.4 323.1,47.6 324.0,47.9 325.0,48.1 326.0,48.4 327.0,48.6 328.0,48.9 329.0,49.1 330.0,49.4 330.9,49.6 331.9,49.9 332.9,50.1 333.9,50.4 334.8,50.6 335.8,50.9 336.8,51.1 337.8,51.4 338.8,51.7 339.7,51.9 340.7,52.2 341.7,52.5 342.6,52.7 343.6,53.0 344.6,53.3 345.5,53.6 352.2,55.5 353.3,55.8 354.3,56.1 355.3,56.4 356.3,56.7 357.3,57.0 358.3,57.3 359.3,57.6 360.3,57.9 361.3,58.2 362.3,58.5 363.3,58.8 364.3,59.1 365.3,59.4 366.3,59.7 367.3,60.0 368.3,60.3 369.3,60.6 370.3,60.8 371.3,61.1 372.3,61.4 373.3,61.7 374.3,62.0 375.2,62.3 376.2,62.6 377.2,62.9 378.2,63.2 379.2,63.5 380.2,63.8 381.1,64.1 382.1,64.4 383.1,64.6 384.1,64.9 385.1,65.2 386.0,65.5 387.0,65.8 388.0,66.1 389.0,66.4 389.9,66.7 390.9,67.0 391.9,67.3 392.9,67.5 393.8,67.8 394.8,68.1 395.8,68.4 396.8,68.7 397.7,69.0 398.7,69.3 399.7,69.6 400.7,69.8 401.7,70.1 402.6,70.4 403.6,70.7 404.6,71.0 405.5,71.3 406.5,71.6 407.5,71.9 408.4,72.2 409.4,72.4 410.4,72.7 411.3,73.0 412.3,73.3 413.3,73.6 414.2,74.0 415.2,74.3 416.1,74.6 417.1,74.9 418.1,75.2 419.0,75.5 420.0,75.8 420.9,76.2 421.9,76.5 422.8,76.8 423.8,77.1 424.7,77.5 425.7,77.8 426.6,78.1 427.2,78.3" fill="none" stroke="#ff4500" stroke-width="1" stroke-dasharray="4.1 1.0 0.7 0.75 0.7 0.75 0.7 0.9"/>
<polyline points="106.5,9.0 131.4,9.8 145.1,11.6 154.7,12.2 162.0,12.8 167.9,13.9 172.9,15.3 177.2,16.4 181.0,17.2 184.4,17.6 187.5,18.0 190.3,18.3 192.8,18.6 195.2,18.9 197.4,19.1 199.5,19.4 201.4,19.7 203.2,20.0 204.9,20.3 206.6,20.6 208.1,20.9 209.6,21.2 211.0,21.5 212.4,21.8 213.7,22.1 214.9,22.3 216.1,22.6 217.3,22.8 218.4,23.1 219.5,23.3 220.5,23.5 221.5,23.7 222.5,23.9 223.4,24.1 224.4,24.3 225.3,24.5 226.1,24.7 227.0,24.9 227.8,25.0 228.6,25.2 229.4,25.4 230.1,25.6 230.9,25.7 231.6,25.9 232.3,26.0 233.0,26.2 233.7,26.3 234.4,26.5 235.0,26.6 235.7,26.8 236.3,26.9 236.9,27.0 237.5,27.2 238.1,27.3 238.7,27.4 239.3,27.6 239.8,27.7 240.4,27.8 240.9,27.9 241.4,28.1 242.0,28.2 242.5,28.3 243.0,28.4 243.5,28.5 244.0,28.6 244.5,28.7 244.9,28.9 245.4,29.0 245.9,29.1 246.3,29.2 246.8,29.3 247.2,29.4 248.1,29.6 248.9,29.8 249.7,29.9 250.5,30.1 251.3,30.3 252.1,30.5 252.8,30.6 253.6,30.8 254.3,31.0 255.0,31.1 255.6,31.3 256.3,31.4 257.0,31.6 257.6,31.7 258.2,31.9 258.8,32.0 259.4,32.2 260.0,32.3 260.6,32.4 261.2,32.6 261.7,32.7 262.3,32.8 262.8,32.9 263.4,33.1 263.9,33.2 264.4,33.3 264.9,33.4 265.4,33.5 265.9,33.7 266.4,33.8 266.9,33.9 267.3,34.0 267.8,34.1 268.2,34.2 268.7,34.3 269.1,34.4 269.8,34.6 270.4,34.7 271.0,34.9 271.7,35.0 272.3,35.1 272.9,35.3 273.4,35.4 274.0,35.6 274.6,35.7 275.1,35.8 275.7,36.0 276.2,36.1 276.7,36.2 277.2,36.3 277.7,36.5 278.2,36.6 278.7,36.7 279.2,36.8 279.7,36.9 280.1,37.0 280.6,37.1 281.1,37.3 281.5,37.4 281.9,37.5 282.5,37.6 283.1,37.8 283.7,37.9 284.2,38.0 284.7,38.2 285.3,38.3 285.8,38.4 286.3,38.6 286.8,38.7 287.3,38.8 287.8,38.9 288.3,39.0 288.8,39.2 289.2,39.3 289.7,39.4 290.1,39.5 290.6,39.6 291.0,39.7 291.6,39.9 292.1,40.0 292.6,40.1 293.2,40.3 293.7,40.4 294.2,40.5 294.7,40.7 295.1,40.8 295.6,40.9 296.1,41.0 296.6,41.1 297.0,41.3 297.5,41.4 297.9,41.5 298.3,41.6 298.9,41.7 299.4,41.8 299.9,42.0 300.4,42.1 300.9,42.2 301.3,42.3 301.8,42.4 302.3,42.6 302.7,42.7 303.2,42.8 303.6,42.9 304.1,43.0 304.6,43.1 305.1,43.3 305.6,43.4 306.0,43.5 306.5,43.6 307.0,43.7 307.4,43.8 307.9,43.9 308.3,44.1 308.8,44.2 309.3,44.3 309.8,44.4 310.2,44.5 310.7,44.6 311.2,44.7 311.6,44.9 312.1,45.0 312.5,45.1 313.0,45.2 313.5,45.3 314.0,45.4 314.4,45.5 314.9,45.6 315.4,45.8 315.8,45.9 316.3,46.0 316.7,46.1 317.2,46.2 317.7,46.3 318.1,46.4 318.6,46.5 319.0,46.7 319.5,46.8 319.9,46.9 320.4,47.0 320.9,47.1 321.4,47.2 321.8,47.3 322.3,47.4 322.7,47.6 323.1,47.7 323.6,47.8 324.1,47.9 324.5,48.0 325.0,48.1 325.4,48.2 325.9,48.3 326.4,48.5 326.8,48.6 327.3,48.7 327.7,48.8 328.2,48.9 328.6,49.0 329.1,49.1 329.5,49.3 330.0,49.4 330.4,49.5 330.9,49.6 331.3,49.7 331.8,49.8 332.2,49.9 332.7,50.1 333.1,50.2 333.6,50.3 334.0,50.4 334.5,50.5 334.9,50.6 335.4,50.8 335.8,50.9 336.3,51.0 336.7,51.1 337.1,51.2 337.6,51.4 338.0,51.5 338.5,51.6 338.9,51.7 339.4,51.8 339.8,52.0 340.3,52.1 340.7,52.2 341.2,52.3 341.6,52.4 342.0,52.6 342.5,52.7 342.9,52.8 343.4,52.9 343.8,53.1 344.3,53.2 344.7,53.3 345.1,53.5 345.6,53.6 346.0,53.7 346.5,53.8 346.5,53.9" fill="none" stroke="none" marker-start="url(#m_orange)" marker-mid="url(#m_orange)" marker-end="url(#m_orange)"/>
<polyline points="352.2,55.5 352.8,55.7 353.3,55.8 353.8,56.0 354.3,56.1 354.8,56.3 355.3,56.4 355.7,56.6 356.2,56.7 356.7,56.8 357.1,57.0 357.6,57.1 358.0,57.2 358.4,57.4 359.0,57.5 359.5,57.7 360.0,57.8 360.5,58.0 361.0,58.1 361.5,58.3 362.0,58.4 362.5,58.5 363.0,58.7 363.4,58.8 363.9,59.0 364.3,59.1 364.8,59.2 365.2,59.3 365.7,59.5 366.2,59.6 366.7,59.8 367.2,59.9 367.7,60.1 368.1,60.2 368.6,60.3 369.1,60.5 369.5,60.6 370.0,60.8 370.4,60.9 370.9,61.0 371.3,61.1 371.8,61.3 372.3,61.4 372.8,61.6 373.3,61.7 373.7,61.9 374.2,62.0 374.6,62.1 375.1,62.3 375.5,62.4 376.0,62.5 376.5,62.7 377.0,62.8 377.4,63.0 377.9,63.1 378.4,63.2 378.8,63.4 379.3,63.5 379.7,63.6 380.2,63.8 380.6,63.9 381.1,64.0 381.5,64.2 382.0,64.3 382.5,64.5 382.9,64.6 383.4,64.7 383.8,64.9 384.2,65.0 384.7,65.1 385.2,65.3 385.6,65.4 386.1,65.5 386.5,65.7 387.0,65.8 387.4,65.9 387.9,66.1 388.3,66.2 388.8,66.3 389.3,66.5 389.7,66.6 390.1,66.7 390.6,66.9 391.0,67.0 391.5,67.1 391.9,67.3 392.4,67.4 392.8,67.5 393.3,67.7 393.7,67.8 394.2,67.9 394.6,68.1 395.1,68.2 395.5,68.3 396.0,68.5 396.4,68.6 396.9,68.7 397.3,68.9 397.8,69.0 398.2,69.1 398.7,69.3 399.1,69.4 399.6,69.5 400.0,69.6 400.4,69.8 400.9,69.9 401.3,70.0 401.8,70.2 402.2,70.3 402.7,70.4 403.1,70.6 403.6,70.7 404.0,70.8 404.4,71.0 404.9,71.1 405.3,71.2 405.8,71.4 406.2,71.5 406.7,71.6 407.1,71.8 407.5,71.9 408.0,72.0 408.4,72.2 408.9,72.3 409.3,72.4 409.7,72.6 410.2,72.7 410.6,72.8 411.1,73.0 411.5,73.1 411.9,73.2 412.4,73.4 412.8,73.5 413.3,73.6 413.7,73.8 414.1,73.9 414.6,74.1 415.0,74.2 415.4,74.3 415.9,74.5 416.3,74.6 416.7,74.8 417.2,74.9 417.6,75.0 418.0,75.2 418.5,75.3 418.9,75.5 419.3,75.6 419.8,75.8 420.2,75.9 420.7,76.1 421.1,76.2 421.5,76.4 421.9,76.5 422.4,76.6 422.8,76.8 423.3,76.9 423.7,77.1 424.1,77.2 424.5,77.4 425.0,77.5 425.4,77.7 425.8,77.8 426.3,78.0 426.7,78.1 427.1,78.3 427.2,78.3" fill="none" stroke="none" marker-start="url(#m_orange)" marker-mid="url(#m_orange)" marker-end="url(#m_orange)"/>
<line x1="84.62" y1="-35.58" x2="470.00" y2="76.80" stroke="#8c8c8c" stroke-width="0.8" stroke-dasharray="2.1 0.7 2.1 0.7 2.1 0.7 2.1 2.0"/>
<line x1="84.62" y1="-90.75" x2="470.00" y2="246.40" stroke="#ff2020" stroke-width="0.8"/>
</g>
<text transform="translate(146.5,116.3) scale(0.932,1)" text-anchor="end">ω<tspan font-size="12.0" dy="4.5">0</tspan><tspan dy="-4.5">=0.8</tspan></text>
<line x1="154.9" y1="113.4" x2="192.9" y2="113.4" stroke="#ff0000" stroke-width="1"/>
<use href="#g_red" x="173.9" y="113.4"/>
<text transform="translate(146.5,134.3) scale(0.932,1)" text-anchor="end">ω<tspan font-size="12.0" dy="4.5">0</tspan><tspan dy="-4.5">=0.4</tspan></text>
<line x1="154.9" y1="131.4" x2="192.9" y2="131.4" stroke="#00ff00" stroke-width="1" stroke-dasharray="2.8 1"/>
<use href="#g_green" x="173.9" y="131.4"/>
<text transform="translate(146.5,152.3) scale(0.932,1)" text-anchor="end">ω<tspan font-size="12.0" dy="4.5">0</tspan><tspan dy="-4.5">=2.0</tspan></text>
<line x1="154.9" y1="149.4" x2="192.9" y2="149.4" stroke="#0000ff" stroke-width="1" stroke-dasharray="1.35 0.9"/>
<use href="#g_blue" x="173.9" y="149.4"/>
<text transform="translate(146.5,170.3) scale(0.932,1)" text-anchor="end">ω<tspan font-size="12.0" dy="4.5">0</tspan><tspan dy="-4.5">=0.5</tspan></text>
<line x1="154.9" y1="167.4" x2="192.9" y2="167.4" stroke="#ff00ff" stroke-width="1" stroke-dasharray="0.6 0.53"/>
<use href="#g_magenta" x="173.9" y="167.4"/>
<text transform="translate(146.5,188.3) scale(0.932,1)" text-anchor="end">ω<tspan font-size="12.0" dy="4.5">0</tspan><tspan dy="-4.5">=0.7</tspan></text>
<line x1="154.9" y1="185.4" x2="192.9" y2="185.4" stroke="#00ffff" stroke-width="1" stroke-dasharray="4.6 1.15 1.1 1.15"/>
<use href="#g_cyan" x="173.9" y="185.4"/>
<text transform="translate(146.5,206.3) scale(0.932,1)" text-anchor="end">ω<tspan font-size="12.0" dy="4.5">0</tspan><tspan dy="-4.5">=0.95</tspan></text>
<line x1="154.9" y1="203.4" x2="192.9" y2="203.4" stroke="#ffff00" stroke-width="1" stroke-dasharray="2.3 1.8 1.1 1.65"/>
<use href="#g_yellow" x="173.9" y="203.4"/>
<text transform="translate(146.5,224.3) scale(0.932,1)" text-anchor="end">ω<tspan font-size="12.0" dy="4.5">0</tspan><tspan dy="-4.5">=1.0</tspan></text>
<line x1="154.9" y1="221.4" x2="192.9" y2="221.4" stroke="#000000" stroke-width="1" stroke-dasharray="2.1 0.65 2.1 3.15"/>
<use href="#g_black" x="173.9" y="221.4"/>
<text transform="translate(146.5,242.3) scale(0.932,1)" text-anchor="end">ω<tspan font-size="12.0" dy="4.5">0</tspan><tspan dy="-4.5">=1.5</tspan></text>
<line x1="154.9" y1="239.4" x2="192.9" y2="239.4" stroke="#ff4500" stroke-width="1" stroke-dasharray="4.1 1.0 0.7 0.75 0.7 0.75 0.7 0.9"/>
<use href="#g_orange" x="173.9" y="239.4"/>
<text transform="translate(146.5,260.3) scale(0.932,1)" text-anchor="end">1/s</text>
<line x1="154.9" y1="257.4" x2="192.9" y2="257.4" stroke="#8c8c8c" stroke-width="0.8" stroke-dasharray="2.1 0.7 2.1 0.7 2.1 0.7 2.1 2.0"/>
<text transform="translate(146.5,278.3) scale(0.932,1)" text-anchor="end">1/s<tspan font-size="12.0" dy="-4.4">3</tspan></text>
<line x1="154.9" y1="275.4" x2="192.9" y2="275.4" stroke="#ff2020" stroke-width="0.8"/>
<path d="M88.9,0.5H470.0V288.4H88.9ZM99.45,288.4v-2.3M99.45,0.5v2.3M106.50,288.4v-4.5M106.50,0.5v4.5M128.38,288.4v-2.3M128.38,0.5v2.3M157.32,288.4v-2.3M157.32,0.5v2.3M172.15,288.4v-2.3M172.15,0.5v2.3M179.20,288.4v-4.5M179.20,0.5v4.5M201.08,288.4v-2.3M201.08,0.5v2.3M230.02,288.4v-2.3M230.02,0.5v2.3M244.85,288.4v-2.3M244.85,0.5v2.3M251.90,288.4v-4.5M251.90,0.5v4.5M273.78,288.4v-2.3M273.78,0.5v2.3M302.72,288.4v-2.3M302.72,0.5v2.3M317.55,288.4v-2.3M317.55,0.5v2.3M324.60,288.4v-4.5M324.60,0.5v4.5M346.48,288.4v-2.3M346.48,0.5v2.3M375.42,288.4v-2.3M375.42,0.5v2.3M390.25,288.4v-2.3M390.25,0.5v2.3M397.30,288.4v-4.5M397.30,0.5v4.5M419.18,288.4v-2.3M419.18,0.5v2.3M448.12,288.4v-2.3M448.12,0.5v2.3M462.95,288.4v-2.3M462.95,0.5v2.3M88.9,267.60h2.3M470.0,267.60h-2.3M88.9,246.40h4.5M470.0,246.40h-4.5M88.9,225.20h2.3M470.0,225.20h-2.3M88.9,204.00h4.5M470.0,204.00h-4.5M88.9,182.80h2.3M470.0,182.80h-2.3M88.9,161.60h4.5M470.0,161.60h-4.5M88.9,140.40h2.3M470.0,140.40h-2.3M88.9,119.20h4.5M470.0,119.20h-4.5M88.9,98.00h2.3M470.0,98.00h-2.3M88.9,76.80h4.5M470.0,76.80h-4.5M88.9,55.60h2.3M470.0,55.60h-2.3M88.9,34.40h4.5M470.0,34.40h-4.5M88.9,13.20h2.3M470.0,13.20h-2.3" fill="none" stroke="#000" stroke-width="1"/>
<text transform="translate(108.1,308.2) scale(0.932,1)" text-anchor="middle">0.1</text>
<text transform="translate(180.8,308.2) scale(0.932,1)" text-anchor="middle">1</text>
<text transform="translate(253.5,308.2) scale(0.932,1)" text-anchor="middle">10</text>
<text transform="translate(326.2,308.2) scale(0.932,1)" text-anchor="middle">100</text>
<text transform="translate(398.9,308.2) scale(0.932,1)" text-anchor="middle">1000</text>
<text transform="translate(471.6,308.2) scale(0.932,1)" text-anchor="middle">10000</text>
<text transform="translate(78.6,39.5) scale(0.932,1)" text-anchor="end">0.01</text>
<text transform="translate(78.6,81.9) scale(0.932,1)" text-anchor="end">0.0001</text>
<text transform="translate(78.6,124.3) scale(0.932,1)" text-anchor="end">1e-06</text>
<text transform="translate(78.6,166.7) scale(0.932,1)" text-anchor="end">1e-08</text>
<text transform="translate(78.6,209.1) scale(0.932,1)" text-anchor="end">1e-10</text>
<text transform="translate(78.6,251.5) scale(0.932,1)" text-anchor="end">1e-12</text>
<text transform="translate(78.6,293.9) scale(0.932,1)" text-anchor="end">1e-14</text>
<text transform="translate(278.6,327.2) scale(0.932,1)" text-anchor="middle">s</text>
<text transform="translate(11.2,144.8) rotate(-90) scale(0.985,1)" text-anchor="middle">ln <tspan font-style="italic">G</tspan><tspan font-size="10.5" dy="4.2">∞</tspan><tspan dy="-4.2">(is)/L-g</tspan><tspan font-size="10.5" dy="4.2">∞</tspan></text>
<text transform="translate(419.2,22.8) scale(0.932,1)">h<tspan font-size="12.0" dy="4.5">0</tspan><tspan dy="-4.5" dx="1.3"> = 0</tspan></text>
<text transform="translate(419.2,38) scale(0.932,1)">ϕ<tspan font-size="12.0" dy="4.5">0</tspan><tspan dy="-4.5" dx="1.3"> = 0</tspan></text>
</svg>
</body></html>
